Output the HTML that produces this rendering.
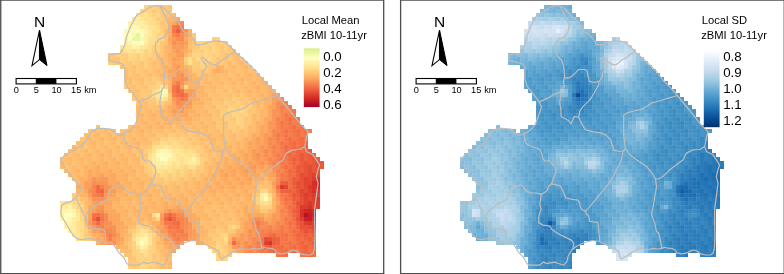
<!DOCTYPE html><html><head><meta charset="utf-8"><style>html,body{margin:0;padding:0;background:#fff}svg{display:block}text{font-family:"Liberation Sans",sans-serif;fill:#000}</style></head><body>
<svg width="784" height="274" viewBox="0 0 784 274" style="will-change:transform">
<defs><clipPath id="mclip"><path d="M144 5h28v4h-28zM140 9h32v4h-32zM136 13h40v4h-40zM132 17h48v4h-48zM128 21h56v4h-56zM128 25h56v4h-56zM124 29h68v4h-68zM124 33h72v4h-72zM124 37h72v4h-72zM212 37h8v4h-8zM124 41h104v4h-104zM120 45h112v4h-112zM120 49h116v4h-116zM108 53h132v4h-132zM108 57h136v4h-136zM108 61h140v4h-140zM120 65h132v4h-132zM124 69h132v4h-132zM124 73h136v4h-136zM124 77h140v4h-140zM124 81h144v4h-144zM124 85h148v4h-148zM128 89h148v4h-148zM132 93h148v4h-148zM132 97h152v4h-152zM136 101h152v4h-152zM136 105h156v4h-156zM136 109h160v4h-160zM136 113h160v4h-160zM136 117h164v4h-164zM136 121h164v4h-164zM96 125h4v4h-4zM128 125h176v4h-176zM88 129h28v4h-28zM120 129h192v4h-192zM84 133h224v4h-224zM80 137h228v4h-228zM76 141h232v4h-232zM72 145h236v4h-236zM68 149h244v4h-244zM64 153h252v4h-252zM60 157h260v4h-260zM60 161h264v4h-264zM60 165h264v4h-264zM64 169h256v4h-256zM68 173h252v4h-252zM72 177h248v4h-248zM76 181h244v4h-244zM76 185h244v4h-244zM76 189h244v4h-244zM72 193h248v4h-248zM72 197h248v4h-248zM60 201h260v4h-260zM60 205h260v4h-260zM60 209h256v4h-256zM60 213h256v4h-256zM60 217h256v4h-256zM64 221h252v4h-252zM64 225h252v4h-252zM68 229h248v4h-248zM72 233h244v4h-244zM76 237h240v4h-240zM96 241h88v4h-88zM196 241h120v4h-120zM116 245h64v4h-64zM208 245h108v4h-108zM120 249h56v4h-56zM212 249h104v4h-104zM124 253h48v4h-48zM216 253h16v4h-16zM276 253h12v4h-12zM300 253h16v4h-16zM128 257h44v4h-44zM216 257h12v4h-12zM128 261h44v4h-44zM128 265h44v4h-44z"/></clipPath><pattern id="gp" x="60" y="5" width="4" height="4" patternUnits="userSpaceOnUse"><path d="M0 0.25h4M0.25 0v4" stroke="#ffffff" stroke-width="0.5"/></pattern></defs>
<rect width="784" height="274" fill="#fff"/>
<g shape-rendering="crispEdges">
<path fill="#fed280" d="M144 5h4v4h-4zM140 9h4v4h-4zM156 33h4v4h-4zM200 41h4v4h-4zM208 53h4v4h-4zM164 85h4v4h-4zM156 101h4v4h-4zM232 109h4v4h-4zM236 113h4v4h-4zM244 113h4v4h-4zM172 137h4v4h-4zM148 161h4v4h-4zM136 225h4v4h-4zM152 233h4v4h-4zM132 241h4v4h-4zM224 241h4v4h-4zM148 249h8v4h-8zM136 253h8v4h-8zM148 253h4v4h-4zM224 253h4v4h-4zM140 257h4v4h-4z"/>
<path fill="#feca78" d="M148 5h4v4h-4zM156 5h4v4h-4zM164 5h4v4h-4zM160 25h4v4h-4zM192 33h4v4h-4zM196 45h4v4h-4zM108 57h4v4h-4zM124 57h4v4h-4zM152 57h4v4h-4zM220 57h4v4h-4zM124 61h4v4h-4zM196 61h4v4h-4zM220 61h4v4h-4zM124 65h4v4h-4zM136 65h4v4h-4zM192 65h4v4h-4zM204 69h4v4h-4zM144 97h4v4h-4zM152 97h4v4h-4zM216 105h4v4h-4zM236 105h4v4h-4zM224 109h4v4h-4zM228 113h4v4h-4zM232 121h4v4h-4zM180 133h4v4h-4zM192 137h4v4h-4zM188 141h4v4h-4zM144 161h4v4h-4zM144 165h4v4h-4zM144 169h4v4h-4zM200 169h4v4h-4zM152 177h8v4h-8zM176 177h4v4h-4zM184 177h4v4h-4zM144 225h8v4h-8zM228 229h4v4h-4zM84 233h4v4h-4zM128 245h4v4h-4zM156 253h4v4h-4zM220 253h4v4h-4zM228 253h4v4h-4z"/>
<path fill="#fed27e" d="M152 5h4v4h-4zM148 9h4v4h-4zM156 21h4v4h-4zM156 45h4v4h-4zM204 45h4v4h-4zM216 53h4v4h-4zM132 57h4v4h-4zM236 101h4v4h-4zM228 105h4v4h-4zM152 169h4v4h-4zM260 205h4v4h-4zM80 213h4v4h-4zM140 225h4v4h-4z"/>
<path fill="#fec272" d="M160 5h4v4h-4zM164 37h4v4h-4zM164 41h4v4h-4zM188 45h4v4h-4zM188 53h4v4h-4zM116 57h4v4h-4zM224 57h4v4h-4zM232 57h4v4h-4zM116 61h4v4h-4zM156 61h4v4h-4zM216 61h4v4h-4zM208 69h4v4h-4zM132 73h4v4h-4zM144 73h4v4h-4zM148 77h4v4h-4zM164 77h4v4h-4zM208 77h4v4h-4zM220 77h4v4h-4zM224 81h4v4h-4zM128 85h4v4h-4zM228 85h4v4h-4zM236 85h4v4h-4zM220 89h4v4h-4zM208 93h4v4h-4zM224 93h4v4h-4zM136 97h4v4h-4zM168 97h4v4h-4zM240 97h4v4h-4zM164 101h4v4h-4zM220 101h4v4h-4zM204 105h4v4h-4zM140 109h4v4h-4zM200 117h4v4h-4zM220 117h4v4h-4zM204 121h4v4h-4zM96 125h4v4h-4zM172 125h4v4h-4zM224 125h4v4h-4zM88 129h4v4h-4zM152 129h4v4h-4zM208 129h4v4h-4zM100 133h4v4h-4zM112 133h4v4h-4zM132 133h4v4h-4zM176 133h4v4h-4zM184 133h4v4h-4zM244 133h4v4h-4zM92 137h4v4h-4zM124 137h4v4h-4zM156 137h4v4h-4zM188 137h4v4h-4zM196 137h4v4h-4zM84 141h4v4h-4zM116 141h4v4h-4zM192 141h4v4h-4zM216 141h4v4h-4zM76 145h4v4h-4zM96 145h4v4h-4zM88 149h4v4h-4zM120 149h4v4h-4zM132 149h4v4h-4zM204 149h4v4h-4zM68 153h4v4h-4zM80 153h4v4h-4zM136 153h8v4h-8zM60 157h4v4h-4zM208 157h4v4h-4zM180 177h4v4h-4zM188 177h4v4h-4zM196 177h4v4h-4zM160 181h4v4h-4zM156 185h4v4h-4zM168 185h4v4h-4zM256 185h4v4h-4zM168 189h4v4h-4zM224 205h4v4h-4zM204 209h4v4h-4zM216 209h4v4h-4zM220 213h4v4h-4zM136 221h4v4h-4zM236 221h4v4h-4zM208 229h4v4h-4zM224 229h4v4h-4zM128 237h4v4h-4zM156 237h4v4h-4zM208 241h8v4h-8zM124 253h8v4h-8zM156 261h4v4h-4zM164 265h4v4h-4z"/>
<path fill="#fec270" d="M168 5h4v4h-4zM164 13h4v4h-4zM220 225h4v4h-4zM212 229h4v4h-4z"/>
<path fill="#feda86" d="M144 9h4v4h-4zM148 13h4v4h-4zM128 53h4v4h-4zM204 53h4v4h-4zM240 109h4v4h-4zM172 145h4v4h-4zM184 149h4v4h-4zM164 169h4v4h-4zM160 173h4v4h-4zM268 193h4v4h-4zM76 201h4v4h-4z"/>
<path fill="#fec878" d="M152 9h4v4h-4zM216 41h4v4h-4zM224 41h4v4h-4zM192 45h4v4h-4zM220 53h4v4h-4zM228 57h4v4h-4zM196 65h4v4h-4zM148 69h4v4h-4zM132 81h4v4h-4zM144 93h8v4h-8zM148 97h4v4h-4zM224 97h4v4h-4zM244 97h4v4h-4zM248 101h4v4h-4zM232 117h4v4h-4zM196 141h4v4h-4zM204 153h4v4h-4zM144 157h4v4h-4zM168 177h4v4h-4zM220 229h4v4h-4zM152 257h4v4h-4z"/>
<path fill="#fece7c" d="M156 9h4v4h-4zM204 41h4v4h-4zM152 45h4v4h-4zM192 49h8v4h-8zM224 49h4v4h-4zM120 53h4v4h-4zM120 57h4v4h-4zM144 57h4v4h-4zM204 57h4v4h-4zM212 57h4v4h-4zM120 61h4v4h-4zM144 61h4v4h-4zM192 61h4v4h-4zM204 61h4v4h-4zM144 65h4v4h-4zM160 81h4v4h-4zM148 85h4v4h-4zM232 97h4v4h-4zM160 101h4v4h-4zM224 101h4v4h-4zM232 105h4v4h-4zM220 113h4v4h-4zM240 113h4v4h-4zM224 117h4v4h-4zM228 121h4v4h-4zM228 125h4v4h-4zM160 137h4v4h-4zM152 141h8v4h-8zM180 141h4v4h-4zM184 145h4v4h-4zM200 149h4v4h-4zM200 157h4v4h-4zM196 165h4v4h-4zM184 169h4v4h-4zM152 173h8v4h-8zM76 197h4v4h-4zM148 229h4v4h-4zM216 229h4v4h-4zM220 237h4v4h-4zM152 241h4v4h-4zM212 249h4v4h-4zM224 249h4v4h-4zM144 257h4v4h-4zM220 257h4v4h-4z"/>
<path fill="#fec676" d="M160 9h4v4h-4zM164 21h4v4h-4zM220 49h4v4h-4zM208 61h4v4h-4zM148 65h4v4h-4zM128 69h4v4h-4zM192 69h4v4h-4zM144 77h4v4h-4zM156 77h4v4h-4zM152 81h4v4h-4zM124 85h4v4h-4zM224 85h4v4h-4zM216 89h4v4h-4zM228 89h4v4h-4zM220 93h4v4h-4zM132 97h4v4h-4zM148 101h4v4h-4zM232 101h4v4h-4zM248 113h4v4h-4zM244 121h4v4h-4zM244 125h4v4h-4zM176 129h4v4h-4zM220 129h4v4h-4zM236 129h4v4h-4zM200 145h4v4h-4zM196 169h4v4h-4zM160 177h4v4h-4zM176 181h4v4h-4zM144 221h4v4h-4zM216 225h4v4h-4zM152 229h4v4h-4zM212 233h4v4h-4zM128 241h4v4h-4zM224 245h4v4h-4z"/>
<path fill="#fecc7a" d="M164 9h4v4h-4zM156 17h4v4h-4zM212 37h4v4h-4zM208 45h4v4h-4zM216 45h4v4h-4zM224 45h4v4h-4zM152 49h4v4h-4zM200 49h4v4h-4zM212 53h4v4h-4zM136 57h4v4h-4zM192 57h4v4h-4zM108 61h4v4h-4zM212 61h4v4h-4zM204 65h4v4h-4zM152 77h4v4h-4zM240 101h4v4h-4zM244 105h4v4h-4zM220 109h4v4h-4zM224 113h4v4h-4zM228 117h4v4h-4zM232 125h4v4h-4zM168 133h4v4h-4zM164 137h4v4h-4zM176 137h4v4h-4zM184 137h4v4h-4zM192 145h4v4h-4zM144 149h4v4h-4zM196 149h4v4h-4zM204 157h4v4h-4zM200 165h4v4h-4zM148 169h4v4h-4zM168 173h4v4h-4zM176 173h4v4h-4zM184 173h4v4h-4zM192 173h4v4h-4zM72 193h4v4h-4zM72 197h4v4h-4zM80 201h4v4h-4zM80 209h4v4h-4zM236 225h4v4h-4zM132 229h4v4h-4zM88 237h4v4h-4zM152 237h4v4h-4zM212 237h8v4h-8zM216 249h4v4h-4zM156 257h4v4h-4zM152 261h4v4h-4zM128 265h4v4h-4zM136 265h4v4h-4z"/>
<path fill="#fec474" d="M168 9h4v4h-4zM164 17h4v4h-4zM192 41h4v4h-4zM160 45h4v4h-4zM220 45h4v4h-4zM228 45h4v4h-4zM160 49h4v4h-4zM112 53h4v4h-4zM160 53h4v4h-4zM216 57h4v4h-4zM240 57h4v4h-4zM140 61h4v4h-4zM232 61h4v4h-4zM156 65h4v4h-4zM208 65h8v4h-8zM224 65h4v4h-4zM152 73h4v4h-4zM132 77h4v4h-4zM136 81h4v4h-4zM140 85h4v4h-4zM132 93h4v4h-4zM212 97h4v4h-4zM228 97h4v4h-4zM136 101h4v4h-4zM152 101h4v4h-4zM244 101h4v4h-4zM160 105h4v4h-4zM252 105h4v4h-4zM248 109h4v4h-4zM96 129h4v4h-4zM88 133h4v4h-4zM160 133h4v4h-4zM192 133h4v4h-4zM200 133h4v4h-4zM224 133h4v4h-4zM236 133h4v4h-4zM224 137h4v4h-4zM104 141h4v4h-4zM140 145h8v4h-8zM76 149h4v4h-4zM144 153h4v4h-4zM212 153h4v4h-4zM72 161h4v4h-4zM208 161h4v4h-4zM188 173h4v4h-4zM168 181h4v4h-4zM264 181h4v4h-4zM260 185h4v4h-4zM252 197h4v4h-4zM260 209h4v4h-4zM212 221h4v4h-4zM224 221h8v4h-8zM128 229h4v4h-4zM88 233h4v4h-4zM156 249h4v4h-4zM128 257h8v4h-8z"/>
<path fill="#fee492" d="M136 13h4v4h-4zM176 153h4v4h-4zM196 157h4v4h-4zM196 161h4v4h-4zM168 165h4v4h-4zM76 229h4v4h-4zM140 229h4v4h-4zM72 233h4v4h-4zM140 249h4v4h-4z"/>
<path fill="#fede8a" d="M140 13h4v4h-4zM152 21h4v4h-4zM156 29h4v4h-4zM188 57h4v4h-4zM184 85h4v4h-4zM156 97h4v4h-4zM164 97h4v4h-4zM148 153h4v4h-4zM148 233h4v4h-4zM76 237h4v4h-4zM132 237h4v4h-4z"/>
<path fill="#fee28e" d="M144 13h4v4h-4zM148 17h4v4h-4zM148 37h4v4h-4zM124 49h4v4h-4zM160 85h4v4h-4zM156 89h4v4h-4zM160 145h4v4h-4zM180 149h4v4h-4zM184 153h4v4h-4zM148 157h4v4h-4zM172 161h4v4h-4zM176 165h4v4h-4zM156 169h4v4h-4zM268 197h4v4h-4z"/>
<path fill="#fed07c" d="M152 13h4v4h-4zM160 17h4v4h-4zM208 49h4v4h-4zM216 49h4v4h-4zM248 105h4v4h-4zM240 117h4v4h-4zM200 161h4v4h-4zM148 165h4v4h-4zM228 225h4v4h-4zM152 265h4v4h-4z"/>
<path fill="#fed482" d="M156 13h4v4h-4zM160 37h4v4h-4zM196 41h4v4h-4zM120 49h4v4h-4zM144 49h4v4h-4zM184 57h4v4h-4zM200 61h4v4h-4zM236 117h4v4h-4zM188 145h4v4h-4zM148 149h4v4h-4zM184 165h4v4h-4zM164 173h4v4h-4zM172 173h4v4h-4zM260 189h4v4h-4zM136 257h4v4h-4z"/>
<path fill="#feca7a" d="M160 13h4v4h-4zM152 53h4v4h-4zM136 61h4v4h-4zM136 69h4v4h-4zM144 81h4v4h-4zM140 93h4v4h-4zM228 101h4v4h-4zM232 129h4v4h-4zM188 133h4v4h-4zM148 173h4v4h-4zM164 181h4v4h-4zM132 265h4v4h-4zM148 265h4v4h-4z"/>
<path fill="#fec674" d="M168 13h4v4h-4zM160 21h4v4h-4zM160 41h4v4h-4zM228 49h4v4h-4zM112 57h4v4h-4zM148 57h4v4h-4zM128 61h4v4h-4zM148 61h4v4h-4zM128 65h4v4h-4zM140 65h4v4h-4zM140 69h4v4h-4zM196 69h4v4h-4zM128 89h4v4h-4zM144 89h8v4h-8zM168 93h4v4h-4zM232 93h4v4h-4zM216 101h4v4h-4zM148 105h4v4h-4zM224 105h4v4h-4zM212 117h4v4h-4zM244 117h4v4h-4zM216 121h4v4h-4zM220 125h4v4h-4zM164 129h4v4h-4zM244 129h4v4h-4zM80 137h4v4h-4zM204 141h4v4h-4zM84 145h4v4h-4zM140 157h4v4h-4zM156 181h4v4h-4zM84 213h4v4h-4zM228 213h4v4h-4zM220 217h4v4h-4zM232 221h4v4h-4zM232 229h4v4h-4zM216 233h4v4h-4zM152 253h4v4h-4zM156 265h4v4h-4z"/>
<path fill="#feba6c" d="M172 13h4v4h-4zM164 57h4v4h-4zM240 65h4v4h-4zM232 69h4v4h-4zM236 77h4v4h-4zM204 81h4v4h-4zM248 81h4v4h-4zM208 85h4v4h-4zM232 85h4v4h-4zM212 89h4v4h-4zM252 89h4v4h-4zM200 97h4v4h-4zM164 105h4v4h-4zM256 105h4v4h-4zM136 113h4v4h-4zM156 113h4v4h-4zM164 113h4v4h-4zM204 113h4v4h-4zM252 113h4v4h-4zM148 117h4v4h-4zM192 117h4v4h-4zM208 117h4v4h-4zM252 117h4v4h-4zM140 121h4v4h-4zM132 125h4v4h-4zM200 125h4v4h-4zM124 129h4v4h-4zM160 129h4v4h-4zM184 129h4v4h-4zM216 129h4v4h-4zM252 129h4v4h-4zM152 133h4v4h-4zM232 133h4v4h-4zM108 137h4v4h-4zM208 137h4v4h-4zM232 137h4v4h-4zM132 141h4v4h-4zM232 141h4v4h-4zM124 145h4v4h-4zM72 149h4v4h-4zM224 149h4v4h-4zM76 157h4v4h-4zM132 157h4v4h-4zM68 161h4v4h-4zM96 161h4v4h-4zM120 161h4v4h-4zM212 161h4v4h-4zM212 165h4v4h-4zM72 169h4v4h-4zM124 169h4v4h-4zM140 169h4v4h-4zM144 173h4v4h-4zM148 177h4v4h-4zM192 177h4v4h-4zM148 185h4v4h-4zM192 185h4v4h-4zM200 185h4v4h-4zM136 189h4v4h-4zM184 189h4v4h-4zM128 193h4v4h-4zM140 193h4v4h-4zM152 193h4v4h-4zM164 193h4v4h-4zM228 193h4v4h-4zM132 197h4v4h-4zM188 197h4v4h-4zM232 197h4v4h-4zM156 201h4v4h-4zM156 205h4v4h-4zM192 205h4v4h-4zM140 209h4v4h-4zM192 209h4v4h-4zM232 209h4v4h-4zM240 213h4v4h-4zM200 217h4v4h-4zM228 217h4v4h-4zM236 217h4v4h-4zM148 221h4v4h-4zM212 225h4v4h-4zM224 225h4v4h-4zM156 233h4v4h-4z"/>
<path fill="#fee696" d="M132 17h4v4h-4zM140 17h4v4h-4zM144 21h4v4h-4zM144 45h4v4h-4zM176 157h4v4h-4zM184 157h4v4h-4zM184 161h4v4h-4zM160 165h4v4h-4zM76 233h4v4h-4zM148 241h4v4h-4z"/>
<path fill="#feec9e" d="M136 17h4v4h-4zM136 21h4v4h-4zM72 221h4v4h-4zM72 225h4v4h-4z"/>
<path fill="#fee08a" d="M144 17h4v4h-4zM132 49h4v4h-4zM140 49h4v4h-4zM152 149h4v4h-4zM188 149h4v4h-4zM188 153h4v4h-4zM180 161h4v4h-4zM144 249h4v4h-4z"/>
<path fill="#fed682" d="M152 17h4v4h-4zM200 45h4v4h-4zM204 49h4v4h-4zM132 53h4v4h-4zM148 53h4v4h-4zM128 57h4v4h-4zM140 57h4v4h-4zM208 57h4v4h-4zM228 109h4v4h-4zM232 113h4v4h-4zM236 121h4v4h-4zM176 141h4v4h-4zM76 205h4v4h-4zM80 217h4v4h-4zM136 229h4v4h-4zM220 233h8v4h-8zM216 245h4v4h-4zM136 249h4v4h-4zM220 249h4v4h-4zM140 261h4v4h-4z"/>
<path fill="#feb668" d="M168 17h8v4h-8zM164 49h8v4h-8zM160 57h4v4h-4zM224 69h4v4h-4zM256 73h4v4h-4zM248 77h4v4h-4zM208 81h4v4h-4zM232 81h4v4h-4zM260 81h4v4h-4zM212 85h4v4h-4zM244 85h4v4h-4zM252 85h4v4h-4zM264 89h4v4h-4zM196 93h12v4h-12zM256 101h4v4h-4zM200 105h4v4h-4zM188 113h4v4h-4zM196 117h4v4h-4zM164 121h4v4h-4zM200 121h4v4h-4zM260 121h4v4h-4zM180 125h4v4h-4zM192 125h4v4h-4zM204 125h4v4h-4zM196 129h4v4h-4zM120 133h4v4h-4zM140 133h4v4h-4zM208 133h4v4h-4zM248 133h4v4h-4zM100 137h4v4h-4zM112 137h4v4h-4zM132 137h4v4h-4zM144 137h4v4h-4zM248 137h4v4h-4zM92 141h4v4h-4zM224 141h4v4h-4zM116 145h4v4h-4zM216 145h4v4h-4zM96 149h4v4h-4zM108 153h4v4h-4zM120 153h4v4h-4zM132 153h4v4h-4zM236 153h4v4h-4zM88 157h4v4h-4zM136 157h4v4h-4zM220 157h4v4h-4zM228 157h4v4h-4zM60 161h4v4h-4zM124 161h4v4h-4zM220 161h4v4h-4zM228 161h4v4h-4zM112 165h4v4h-4zM208 165h4v4h-4zM220 165h4v4h-4zM112 169h4v4h-4zM128 169h4v4h-4zM208 169h4v4h-4zM76 173h4v4h-4zM208 173h4v4h-4zM216 177h4v4h-4zM268 181h4v4h-4zM124 185h4v4h-4zM176 185h4v4h-4zM212 185h4v4h-4zM128 189h4v4h-4zM140 189h4v4h-4zM176 189h4v4h-4zM196 189h4v4h-4zM204 189h4v4h-4zM248 189h8v4h-8zM132 193h4v4h-4zM156 193h4v4h-4zM188 193h4v4h-4zM208 193h4v4h-4zM220 193h4v4h-4zM240 193h4v4h-4zM168 197h4v4h-4zM192 197h4v4h-4zM168 201h4v4h-4zM180 201h4v4h-4zM228 201h4v4h-4zM248 201h4v4h-4zM272 201h4v4h-4zM112 205h4v4h-4zM196 205h4v4h-4zM248 205h8v4h-8zM272 205h4v4h-4zM116 209h4v4h-4zM132 209h4v4h-4zM200 209h4v4h-4zM144 213h4v4h-4zM204 213h4v4h-4zM236 213h4v4h-4zM120 217h8v4h-8zM132 221h4v4h-4zM124 233h4v4h-4zM232 233h4v4h-4zM120 245h4v4h-4z"/>
<path fill="#fca85e" d="M176 17h4v4h-4zM172 21h4v4h-4zM176 61h4v4h-4zM216 69h4v4h-4zM172 73h4v4h-4zM184 73h4v4h-4zM172 105h4v4h-4zM180 113h4v4h-4zM268 113h4v4h-4zM176 117h4v4h-4zM264 117h8v4h-8zM264 121h4v4h-4zM248 153h4v4h-4zM236 161h4v4h-4zM264 165h4v4h-4zM88 169h4v4h-4zM96 169h4v4h-4zM228 169h4v4h-4zM268 169h4v4h-4zM220 173h4v4h-4zM240 173h4v4h-4zM272 177h4v4h-4zM108 181h8v4h-8zM228 181h4v4h-4zM248 181h4v4h-4zM116 185h4v4h-4zM220 185h4v4h-4zM232 185h4v4h-4zM88 205h4v4h-4zM104 205h8v4h-8zM88 209h4v4h-4zM108 209h4v4h-4zM188 213h4v4h-4zM120 221h4v4h-4zM88 225h4v4h-4zM116 225h4v4h-4zM196 237h4v4h-4zM164 241h8v4h-8z"/>
<path fill="#fef2aa" d="M128 21h4v4h-4zM128 41h4v4h-4zM156 157h4v4h-4zM192 157h4v4h-4zM164 161h4v4h-4zM60 209h4v4h-4zM72 209h4v4h-4zM64 221h4v4h-4zM140 245h4v4h-4z"/>
<path fill="#fef0a4" d="M132 21h4v4h-4zM168 157h4v4h-4zM68 205h4v4h-4z"/>
<path fill="#feeea2" d="M140 21h4v4h-4zM172 157h4v4h-4zM156 161h8v4h-8zM260 193h4v4h-4z"/>
<path fill="#fedc88" d="M148 21h4v4h-4zM152 29h4v4h-4zM148 45h4v4h-4zM152 93h4v4h-4zM160 141h4v4h-4zM172 141h4v4h-4zM192 165h4v4h-4zM80 221h4v4h-4zM80 233h4v4h-4zM144 253h4v4h-4z"/>
<path fill="#feb266" d="M168 21h4v4h-4zM220 69h4v4h-4zM248 89h4v4h-4zM180 117h4v4h-4zM160 125h4v4h-4zM196 185h4v4h-4zM204 185h4v4h-4zM180 193h4v4h-4zM216 197h4v4h-4zM272 197h4v4h-4zM152 205h4v4h-4zM272 209h4v4h-4zM124 213h4v4h-4z"/>
<path fill="#fa9254" d="M176 21h4v4h-4zM180 81h4v4h-4zM180 101h4v4h-4zM272 109h8v4h-8zM272 113h4v4h-4zM268 149h4v4h-4zM260 161h4v4h-4zM96 181h8v4h-8zM168 209h4v4h-4zM260 217h4v4h-4zM108 225h8v4h-8zM252 225h4v4h-4zM100 229h4v4h-4zM248 233h4v4h-4zM108 241h4v4h-4zM236 245h4v4h-4z"/>
<path fill="#f88c52" d="M180 21h4v4h-4zM280 97h4v4h-4zM276 101h4v4h-4zM272 137h4v4h-4zM272 165h4v4h-4zM92 181h4v4h-4zM104 189h4v4h-4zM104 213h4v4h-4zM184 217h4v4h-4zM104 221h4v4h-4zM280 221h4v4h-4zM164 225h4v4h-4zM184 225h4v4h-4zM264 225h4v4h-4zM256 229h4v4h-4zM168 233h4v4h-4zM256 233h4v4h-4zM232 237h4v4h-4zM176 241h4v4h-4zM252 245h4v4h-4z"/>
<path fill="#fef2a8" d="M128 25h4v4h-4zM64 225h4v4h-4zM136 241h4v4h-4z"/>
<path fill="#fef8b4" d="M132 25h4v4h-4zM124 29h8v4h-8zM164 89h4v4h-4zM68 209h4v4h-4zM72 213h4v4h-4zM68 217h4v4h-4z"/>
<path fill="#fef4ac" d="M136 25h4v4h-4zM144 29h4v4h-4zM132 45h4v4h-4zM144 241h4v4h-4z"/>
<path fill="#feeca0" d="M140 25h4v4h-4zM144 41h4v4h-4zM172 153h4v4h-4zM72 217h4v4h-4zM72 229h4v4h-4zM144 233h4v4h-4zM136 237h4v4h-4z"/>
<path fill="#feeea0" d="M144 25h4v4h-4z"/>
<path fill="#fee490" d="M148 25h8v4h-8zM68 201h4v4h-4z"/>
<path fill="#fed884" d="M156 25h4v4h-4zM148 49h4v4h-4zM212 49h4v4h-4zM140 53h4v4h-4zM196 57h4v4h-4zM164 141h4v4h-4zM180 145h4v4h-4zM196 153h4v4h-4zM152 165h4v4h-4zM172 169h4v4h-4zM72 201h4v4h-4zM268 201h4v4h-4zM80 229h4v4h-4zM224 257h4v4h-4zM140 265h4v4h-4z"/>
<path fill="#fec876" d="M164 25h4v4h-4zM108 53h4v4h-4zM228 53h4v4h-4zM112 61h4v4h-4zM184 61h4v4h-4zM128 73h4v4h-4zM140 73h4v4h-4zM148 81h4v4h-4zM136 85h4v4h-4zM140 89h4v4h-4zM240 93h4v4h-4zM236 97h4v4h-4zM212 101h4v4h-4zM220 105h4v4h-4zM252 109h4v4h-4zM248 117h4v4h-4zM248 121h4v4h-4zM216 125h4v4h-4zM236 125h4v4h-4zM156 133h4v4h-4zM172 133h4v4h-4zM148 145h4v4h-4zM200 153h4v4h-4zM140 161h4v4h-4zM188 169h4v4h-4zM152 181h4v4h-4zM256 193h4v4h-4zM84 225h4v4h-4zM208 233h4v4h-4zM208 245h8v4h-8zM128 261h12v4h-12zM160 261h4v4h-4z"/>
<path fill="#fcac60" d="M168 25h4v4h-4zM184 49h4v4h-4zM172 53h4v4h-4zM196 97h4v4h-4zM168 109h4v4h-4zM184 109h4v4h-4zM240 149h4v4h-4zM236 169h4v4h-4zM228 173h4v4h-4zM232 177h4v4h-4zM268 177h4v4h-4zM236 181h4v4h-4zM208 185h4v4h-4zM240 185h4v4h-4zM120 189h4v4h-4zM248 193h4v4h-4zM112 197h4v4h-4zM164 205h4v4h-4zM172 205h4v4h-4zM244 205h4v4h-4zM184 209h8v4h-8zM244 209h4v4h-4zM268 213h4v4h-4zM196 217h4v4h-4zM152 221h4v4h-4zM192 221h4v4h-4zM100 237h4v4h-4zM196 241h4v4h-4z"/>
<path fill="#f67848" d="M172 25h4v4h-4zM172 85h4v4h-4zM288 105h4v4h-4zM284 113h4v4h-4zM280 125h4v4h-4zM300 129h4v4h-4zM284 137h4v4h-4zM292 137h4v4h-4zM304 137h4v4h-4zM280 145h4v4h-4zM284 157h4v4h-4zM280 161h4v4h-4zM280 177h4v4h-4zM280 193h8v4h-8zM288 201h4v4h-4zM288 213h4v4h-4zM164 221h4v4h-4zM256 221h4v4h-4zM172 225h4v4h-4zM292 225h4v4h-4zM180 229h4v4h-4zM288 229h4v4h-4zM280 241h4v4h-4zM292 241h4v4h-4zM284 245h4v4h-4zM264 249h4v4h-4zM276 253h4v4h-4z"/>
<path fill="#f47044" d="M176 25h4v4h-4zM176 93h4v4h-4zM288 117h4v4h-4zM284 129h4v4h-4zM288 141h4v4h-4zM284 165h4v4h-4zM288 197h4v4h-4zM172 221h4v4h-4zM288 221h4v4h-4zM176 225h4v4h-4zM284 233h4v4h-4zM292 233h4v4h-4zM300 237h4v4h-4zM288 241h4v4h-4zM312 253h4v4h-4z"/>
<path fill="#f67a4a" d="M180 25h4v4h-4zM176 81h4v4h-4zM284 117h4v4h-4zM292 117h4v4h-4zM296 125h4v4h-4zM284 141h4v4h-4zM284 177h4v4h-4zM96 193h4v4h-4zM284 217h4v4h-4zM268 229h4v4h-4zM172 233h4v4h-4z"/>
<path fill="#fafcb8" d="M132 29h4v4h-4zM132 41h8v4h-8z"/>
<path fill="#fcfebc" d="M136 29h4v4h-4z"/>
<path fill="#fef6b0" d="M140 29h4v4h-4zM164 149h4v4h-4zM64 209h4v4h-4zM140 237h4v4h-4z"/>
<path fill="#fee898" d="M148 29h4v4h-4zM120 45h8v4h-8zM140 45h4v4h-4zM176 149h4v4h-4zM152 153h4v4h-4zM180 153h4v4h-4zM156 165h4v4h-4zM76 217h4v4h-4zM140 233h4v4h-4z"/>
<path fill="#fed07e" d="M160 29h4v4h-4zM212 41h4v4h-4zM220 41h4v4h-4zM156 49h4v4h-4zM116 53h4v4h-4zM136 53h4v4h-4zM144 53h4v4h-4zM200 53h4v4h-4zM132 61h4v4h-4zM152 85h4v4h-4zM236 109h4v4h-4zM244 109h4v4h-4zM240 121h4v4h-4zM240 125h4v4h-4zM196 145h4v4h-4zM176 169h4v4h-4zM192 169h4v4h-4zM164 177h4v4h-4zM172 177h4v4h-4zM256 197h4v4h-4zM256 201h4v4h-4zM264 205h8v4h-8zM84 229h4v4h-4zM84 237h4v4h-4zM216 241h4v4h-4zM132 245h4v4h-4zM152 245h4v4h-4zM220 245h4v4h-4zM132 249h4v4h-4zM132 253h4v4h-4zM216 253h4v4h-4zM144 261h4v4h-4z"/>
<path fill="#febc6c" d="M164 29h4v4h-4zM236 57h4v4h-4zM228 61h4v4h-4zM252 73h4v4h-4zM128 77h4v4h-4zM140 77h4v4h-4zM216 81h4v4h-4zM228 81h4v4h-4zM256 81h4v4h-4zM240 85h4v4h-4zM136 89h4v4h-4zM216 93h4v4h-4zM144 101h4v4h-4zM208 101h4v4h-4zM260 101h4v4h-4zM144 105h4v4h-4zM156 105h4v4h-4zM196 109h4v4h-4zM160 121h4v4h-4zM196 121h4v4h-4zM252 121h4v4h-4zM176 125h4v4h-4zM188 125h4v4h-4zM212 125h4v4h-4zM252 125h4v4h-4zM92 129h4v4h-4zM144 129h4v4h-4zM84 133h4v4h-4zM116 133h4v4h-4zM136 133h4v4h-4zM196 133h4v4h-4zM216 133h4v4h-4zM96 137h4v4h-4zM240 137h4v4h-4zM88 141h4v4h-4zM144 141h4v4h-4zM220 141h4v4h-4zM240 141h4v4h-4zM80 145h4v4h-4zM112 145h4v4h-4zM212 145h4v4h-4zM232 145h4v4h-4zM240 145h4v4h-4zM92 149h4v4h-4zM140 149h4v4h-4zM232 149h4v4h-4zM84 153h4v4h-4zM104 153h4v4h-4zM116 153h4v4h-4zM128 153h4v4h-4zM216 153h4v4h-4zM224 153h4v4h-4zM120 165h4v4h-4zM136 165h4v4h-4zM80 169h4v4h-4zM212 169h4v4h-4zM140 173h4v4h-4zM128 177h4v4h-4zM144 177h4v4h-4zM144 181h4v4h-4zM132 185h4v4h-4zM148 189h4v4h-4zM256 189h4v4h-4zM204 193h4v4h-4zM216 193h4v4h-4zM164 197h4v4h-4zM240 197h4v4h-4zM228 205h4v4h-4zM256 205h4v4h-4zM128 209h4v4h-4zM148 209h4v4h-4zM212 213h4v4h-4zM224 213h4v4h-4zM144 217h4v4h-4zM216 217h4v4h-4zM204 221h4v4h-4zM220 221h4v4h-4zM124 237h4v4h-4zM200 237h4v4h-4zM160 265h4v4h-4z"/>
<path fill="#fcaa5e" d="M168 29h4v4h-4zM168 73h4v4h-4zM192 97h4v4h-4zM252 137h4v4h-4zM96 165h4v4h-4zM236 165h4v4h-4zM260 169h4v4h-4zM112 185h4v4h-4zM116 229h4v4h-4zM236 233h4v4h-4zM228 241h4v4h-4z"/>
<path fill="#f67446" d="M172 29h4v4h-4zM172 89h4v4h-4zM300 125h4v4h-4zM288 165h4v4h-4zM168 225h4v4h-4zM288 225h4v4h-4zM280 233h4v4h-4zM280 237h4v4h-4zM284 241h4v4h-4z"/>
<path fill="#ec5a3a" d="M176 29h4v4h-4zM308 157h4v4h-4z"/>
<path fill="#f67c4a" d="M180 29h4v4h-4zM288 109h4v4h-4zM284 121h4v4h-4zM280 129h4v4h-4zM300 133h4v4h-4zM280 149h4v4h-4zM276 153h4v4h-4zM284 161h4v4h-4zM100 213h4v4h-4zM108 233h4v4h-4zM260 233h4v4h-4zM288 233h4v4h-4zM176 237h4v4h-4zM256 241h4v4h-4z"/>
<path fill="#f88e52" d="M184 29h4v4h-4zM180 33h4v4h-4zM172 41h4v4h-4zM172 81h4v4h-4zM180 105h4v4h-4zM268 145h4v4h-4zM264 153h4v4h-4zM272 157h4v4h-4zM276 165h4v4h-4zM276 177h4v4h-4zM88 189h4v4h-4zM96 209h8v4h-8zM252 217h8v4h-8zM272 225h4v4h-4zM256 237h4v4h-4zM112 241h4v4h-4zM244 241h4v4h-4zM244 245h4v4h-4zM244 249h4v4h-4zM252 249h4v4h-4z"/>
<path fill="#feb466" d="M188 29h4v4h-4zM164 45h4v4h-4zM168 65h4v4h-4zM220 65h4v4h-4zM244 65h4v4h-4zM164 69h4v4h-4zM160 73h4v4h-4zM192 73h4v4h-4zM248 73h4v4h-4zM192 77h8v4h-8zM240 77h4v4h-4zM260 77h4v4h-4zM168 81h4v4h-4zM252 81h4v4h-4zM168 85h4v4h-4zM264 85h4v4h-4zM196 89h8v4h-8zM256 89h4v4h-4zM272 89h4v4h-4zM268 101h4v4h-4zM264 105h4v4h-4zM260 109h4v4h-4zM160 113h4v4h-4zM192 113h4v4h-4zM260 113h4v4h-4zM152 117h4v4h-4zM144 121h4v4h-4zM188 121h4v4h-4zM136 125h4v4h-4zM212 137h4v4h-4zM136 141h4v4h-4zM236 141h4v4h-4zM128 145h4v4h-4zM236 145h4v4h-4zM108 149h4v4h-4zM228 149h4v4h-4zM236 149h4v4h-4zM88 153h4v4h-4zM220 153h4v4h-4zM228 153h4v4h-4zM100 157h4v4h-4zM112 157h4v4h-4zM124 157h4v4h-4zM100 161h4v4h-4zM112 161h4v4h-4zM100 165h4v4h-4zM128 165h4v4h-4zM76 169h4v4h-4zM100 169h4v4h-4zM68 173h4v4h-4zM84 173h4v4h-4zM116 173h4v4h-4zM132 173h4v4h-4zM260 173h4v4h-4zM120 177h4v4h-4zM120 181h4v4h-4zM136 181h4v4h-4zM220 181h4v4h-4zM224 185h4v4h-4zM236 185h4v4h-4zM76 189h4v4h-4zM156 189h4v4h-4zM188 189h4v4h-4zM216 189h4v4h-4zM228 189h4v4h-4zM80 193h4v4h-4zM116 193h4v4h-4zM168 193h4v4h-4zM200 193h4v4h-4zM232 193h4v4h-4zM124 197h4v4h-4zM148 197h4v4h-4zM180 197h4v4h-4zM204 197h4v4h-4zM236 197h4v4h-4zM88 201h4v4h-4zM112 201h4v4h-4zM128 201h4v4h-4zM140 201h4v4h-4zM160 201h4v4h-4zM196 201h4v4h-4zM208 201h4v4h-4zM220 201h4v4h-4zM116 205h4v4h-4zM132 205h4v4h-4zM160 205h4v4h-4zM200 205h4v4h-4zM240 205h4v4h-4zM120 209h4v4h-4zM144 209h4v4h-4zM156 209h4v4h-4zM248 209h4v4h-4zM120 213h4v4h-4zM136 213h4v4h-4zM264 213h4v4h-4zM140 217h4v4h-4zM200 229h8v4h-8zM164 245h4v4h-4zM164 253h4v4h-4zM168 261h4v4h-4z"/>
<path fill="#fefcba" d="M124 33h4v4h-4zM164 157h4v4h-4zM64 217h4v4h-4z"/>
<path fill="#fefebe" d="M128 33h4v4h-4zM160 89h4v4h-4zM160 157h4v4h-4zM264 197h4v4h-4zM68 213h4v4h-4z"/>
<path fill="#f2faae" d="M132 33h4v4h-4z"/>
<path fill="#e6f49e" d="M136 33h4v4h-4z"/>
<path fill="#fafeba" d="M140 33h4v4h-4zM128 37h4v4h-4z"/>
<path fill="#feeea4" d="M144 33h4v4h-4zM124 41h4v4h-4z"/>
<path fill="#feea9c" d="M148 33h4v4h-4zM168 161h4v4h-4zM260 197h4v4h-4zM156 213h4v4h-4zM68 229h4v4h-4zM144 245h4v4h-4z"/>
<path fill="#fee08c" d="M152 33h4v4h-4zM152 37h4v4h-4zM148 41h8v4h-8zM188 61h4v4h-4zM176 145h4v4h-4zM180 157h4v4h-4zM188 165h4v4h-4zM160 169h4v4h-4zM168 169h4v4h-4zM64 201h4v4h-4zM76 209h4v4h-4zM76 221h4v4h-4zM80 225h4v4h-4zM144 229h4v4h-4zM80 237h4v4h-4z"/>
<path fill="#fed480" d="M160 33h4v4h-4zM156 37h4v4h-4zM216 37h4v4h-4zM156 41h4v4h-4zM212 45h4v4h-4zM192 53h8v4h-8zM200 57h4v4h-4zM200 65h4v4h-4zM156 81h4v4h-4zM156 85h4v4h-4zM240 105h4v4h-4zM180 137h4v4h-4zM168 141h4v4h-4zM184 141h4v4h-4zM180 173h4v4h-4zM80 205h4v4h-4zM156 217h4v4h-4zM148 257h4v4h-4zM216 257h4v4h-4zM144 265h4v4h-4z"/>
<path fill="#fec070" d="M164 33h4v4h-4zM192 37h4v4h-4zM156 53h4v4h-4zM224 53h4v4h-4zM232 53h4v4h-4zM156 57h4v4h-4zM244 61h4v4h-4zM120 65h4v4h-4zM132 65h4v4h-4zM236 65h4v4h-4zM132 69h4v4h-4zM144 69h4v4h-4zM152 69h4v4h-4zM200 69h4v4h-4zM228 69h4v4h-4zM248 69h4v4h-4zM208 73h4v4h-4zM240 73h4v4h-4zM124 77h4v4h-4zM136 77h4v4h-4zM232 77h4v4h-4zM252 77h4v4h-4zM140 81h4v4h-4zM164 81h4v4h-4zM200 81h4v4h-4zM212 81h4v4h-4zM244 81h4v4h-4zM144 85h4v4h-4zM216 85h4v4h-4zM132 89h4v4h-4zM204 89h4v4h-4zM232 89h4v4h-4zM240 89h4v4h-4zM136 93h4v4h-4zM212 93h4v4h-4zM236 93h4v4h-4zM244 93h4v4h-4zM252 93h4v4h-4zM216 97h4v4h-4zM248 97h4v4h-4zM256 97h4v4h-4zM140 101h4v4h-4zM140 105h4v4h-4zM152 105h4v4h-4zM208 105h4v4h-4zM260 105h4v4h-4zM152 109h4v4h-4zM212 109h4v4h-4zM216 113h4v4h-4zM144 117h4v4h-4zM136 121h4v4h-4zM192 121h4v4h-4zM224 121h4v4h-4zM128 125h4v4h-4zM184 125h4v4h-4zM196 125h4v4h-4zM208 125h4v4h-4zM100 129h4v4h-4zM120 129h4v4h-4zM168 129h4v4h-4zM180 129h4v4h-4zM200 129h4v4h-4zM228 129h4v4h-4zM240 129h4v4h-4zM124 133h4v4h-4zM144 133h4v4h-4zM164 133h4v4h-4zM212 133h4v4h-4zM228 133h4v4h-4zM84 137h4v4h-4zM104 137h4v4h-4zM116 137h4v4h-4zM136 137h4v4h-4zM204 137h4v4h-4zM228 137h4v4h-4zM96 141h4v4h-4zM128 141h4v4h-4zM200 141h4v4h-4zM228 141h4v4h-4zM108 145h4v4h-4zM120 145h4v4h-4zM68 149h4v4h-4zM100 149h4v4h-4zM212 149h4v4h-4zM112 153h4v4h-4zM124 153h4v4h-4zM72 157h4v4h-4zM92 157h4v4h-4zM64 161h4v4h-4zM84 161h4v4h-4zM128 161h4v4h-4zM204 161h4v4h-4zM76 165h4v4h-4zM204 165h4v4h-4zM68 169h4v4h-4zM204 169h4v4h-4zM136 173h4v4h-4zM204 173h4v4h-4zM72 177h4v4h-4zM180 181h4v4h-4zM188 181h4v4h-4zM180 185h4v4h-4zM188 185h4v4h-4zM264 185h8v4h-8zM180 189h4v4h-4zM268 189h4v4h-4zM76 193h4v4h-4zM160 193h4v4h-4zM80 197h4v4h-4zM232 201h4v4h-4zM84 205h4v4h-4zM228 209h4v4h-4zM208 213h4v4h-4zM212 217h4v4h-4zM224 217h4v4h-4zM216 221h4v4h-4zM132 225h4v4h-4zM204 225h4v4h-4zM124 241h4v4h-4zM204 241h4v4h-4zM156 245h8v4h-8zM228 249h4v4h-4zM168 257h4v4h-4z"/>
<path fill="#feb062" d="M168 33h4v4h-4zM188 33h4v4h-4zM164 65h4v4h-4zM216 65h4v4h-4zM188 73h4v4h-4zM168 77h4v4h-4zM188 85h4v4h-4zM256 85h4v4h-4zM268 89h4v4h-4zM268 93h4v4h-4zM172 117h4v4h-4zM184 117h4v4h-4zM168 121h4v4h-4zM256 133h4v4h-4zM232 157h4v4h-4zM240 157h4v4h-4zM104 161h4v4h-4zM116 161h4v4h-4zM232 161h4v4h-4zM104 165h4v4h-4zM92 169h4v4h-4zM104 169h4v4h-4zM120 169h4v4h-4zM124 177h4v4h-4zM212 177h4v4h-4zM240 177h4v4h-4zM252 177h4v4h-4zM80 181h4v4h-4zM244 181h4v4h-4zM216 185h4v4h-4zM252 185h4v4h-4zM220 189h4v4h-4zM232 189h4v4h-4zM124 193h4v4h-4zM136 193h4v4h-4zM148 193h4v4h-4zM244 193h4v4h-4zM128 197h4v4h-4zM172 197h4v4h-4zM184 197h4v4h-4zM172 201h4v4h-4zM252 209h4v4h-4zM244 217h4v4h-4zM240 229h4v4h-4zM160 237h4v4h-4zM200 241h4v4h-4z"/>
<path fill="#f88850" d="M172 33h4v4h-4zM176 97h4v4h-4zM284 109h4v4h-4zM272 133h4v4h-4zM268 137h4v4h-4zM268 157h4v4h-4zM276 161h4v4h-4zM276 173h4v4h-4zM284 213h4v4h-4zM104 217h4v4h-4zM252 221h4v4h-4zM96 225h4v4h-4zM172 237h4v4h-4zM180 237h4v4h-4zM252 237h4v4h-4z"/>
<path fill="#f67648" d="M176 33h4v4h-4zM184 93h4v4h-4zM292 113h4v4h-4zM296 121h4v4h-4zM288 125h4v4h-4zM304 133h4v4h-4zM280 173h4v4h-4zM284 201h4v4h-4zM172 213h4v4h-4zM168 221h4v4h-4zM280 229h4v4h-4zM276 233h4v4h-4zM296 249h4v4h-4z"/>
<path fill="#fa9e5a" d="M184 33h4v4h-4zM184 41h4v4h-4zM176 45h4v4h-4zM176 53h4v4h-4zM172 57h4v4h-4zM180 85h4v4h-4zM192 89h4v4h-4zM276 93h4v4h-4zM272 97h8v4h-8zM256 141h4v4h-4zM252 157h4v4h-4zM260 157h4v4h-4zM260 165h4v4h-4zM252 169h4v4h-4zM272 173h4v4h-4zM84 181h8v4h-8zM276 197h4v4h-4zM92 209h4v4h-4zM172 209h4v4h-4zM160 213h4v4h-4zM268 221h4v4h-4zM92 229h4v4h-4zM192 233h4v4h-4zM116 237h4v4h-4zM236 237h4v4h-4zM100 241h4v4h-4zM176 245h4v4h-4zM240 245h4v4h-4zM240 249h4v4h-4z"/>
<path fill="#fef4aa" d="M124 37h4v4h-4z"/>
<path fill="#ecf6a4" d="M132 37h4v4h-4z"/>
<path fill="#e8f6a0" d="M136 37h4v4h-4z"/>
<path fill="#f4fab2" d="M140 37h4v4h-4z"/>
<path fill="#fef0a6" d="M144 37h4v4h-4zM136 45h4v4h-4zM156 149h4v4h-4z"/>
<path fill="#fca45c" d="M168 37h4v4h-4zM172 49h4v4h-4zM180 49h4v4h-4zM176 57h4v4h-4zM172 65h4v4h-4zM168 69h8v4h-8zM180 69h4v4h-4zM184 89h4v4h-4zM188 105h4v4h-4zM268 105h4v4h-4zM184 113h4v4h-4zM260 133h4v4h-4zM248 141h4v4h-4zM244 157h4v4h-4zM252 161h4v4h-4zM256 165h4v4h-4zM240 169h4v4h-4zM248 169h4v4h-4zM232 173h4v4h-4zM256 173h4v4h-4zM88 177h4v4h-4zM236 177h4v4h-4zM240 181h4v4h-4zM272 185h4v4h-4zM112 193h4v4h-4zM100 201h12v4h-12zM92 205h4v4h-4zM176 205h4v4h-4zM108 213h4v4h-4zM116 213h4v4h-4zM184 213h4v4h-4zM112 217h4v4h-4zM156 225h4v4h-4zM248 225h4v4h-4zM196 233h4v4h-4zM120 237h4v4h-4zM236 249h4v4h-4z"/>
<path fill="#fa9858" d="M172 37h4v4h-4zM252 149h4v4h-4zM104 177h4v4h-4zM276 209h4v4h-4zM168 237h4v4h-4z"/>
<path fill="#f88a50" d="M176 37h8v4h-8zM176 101h4v4h-4zM276 129h4v4h-4zM264 149h4v4h-4zM276 149h4v4h-4zM272 153h4v4h-4zM276 181h4v4h-4zM280 201h4v4h-4zM176 213h4v4h-4zM280 217h4v4h-4zM184 221h4v4h-4zM108 229h4v4h-4zM112 233h4v4h-4zM252 241h4v4h-4z"/>
<path fill="#fcaa60" d="M184 37h4v4h-4zM168 41h4v4h-4zM168 53h4v4h-4zM180 61h4v4h-4zM184 69h4v4h-4zM184 81h4v4h-4zM168 105h4v4h-4zM264 125h4v4h-4zM264 129h4v4h-4zM252 133h4v4h-4zM252 141h4v4h-4zM252 145h4v4h-4zM248 157h4v4h-4zM244 165h4v4h-4zM108 169h4v4h-4zM108 173h4v4h-4zM248 173h4v4h-4zM108 177h4v4h-4zM216 181h4v4h-4zM212 189h4v4h-4zM244 189h4v4h-4zM88 197h4v4h-4zM116 197h4v4h-4zM192 213h4v4h-4zM252 213h4v4h-4zM192 217h4v4h-4zM264 217h4v4h-4zM120 225h4v4h-4zM96 237h4v4h-4zM172 245h4v4h-4z"/>
<path fill="#feb86a" d="M188 37h4v4h-4zM164 53h4v4h-4zM184 53h4v4h-4zM236 53h4v4h-4zM240 61h4v4h-4zM232 65h4v4h-4zM156 69h4v4h-4zM164 73h4v4h-4zM204 73h4v4h-4zM212 73h4v4h-4zM204 77h4v4h-4zM228 77h4v4h-4zM240 81h4v4h-4zM236 89h4v4h-4zM248 93h4v4h-4zM208 97h4v4h-4zM252 97h4v4h-4zM192 105h4v4h-4zM136 109h4v4h-4zM164 109h4v4h-4zM148 113h4v4h-4zM264 113h4v4h-4zM168 117h4v4h-4zM152 121h4v4h-4zM172 121h4v4h-4zM184 121h4v4h-4zM144 125h4v4h-4zM156 125h4v4h-4zM168 125h4v4h-4zM136 129h4v4h-4zM248 129h4v4h-4zM96 133h4v4h-4zM108 133h4v4h-4zM220 133h4v4h-4zM88 137h4v4h-4zM112 141h4v4h-4zM212 141h4v4h-4zM72 145h4v4h-4zM92 145h4v4h-4zM224 145h4v4h-4zM84 149h4v4h-4zM116 149h4v4h-4zM128 149h4v4h-4zM216 149h4v4h-4zM76 153h4v4h-4zM96 153h4v4h-4zM108 157h4v4h-4zM120 157h4v4h-4zM212 157h4v4h-4zM88 161h4v4h-4zM88 165h4v4h-4zM124 165h4v4h-4zM64 169h4v4h-4zM128 173h4v4h-4zM208 177h4v4h-4zM264 177h4v4h-4zM184 181h4v4h-4zM200 181h4v4h-4zM256 181h4v4h-4zM184 185h4v4h-4zM80 189h4v4h-4zM152 189h4v4h-4zM164 189h4v4h-4zM236 189h4v4h-4zM176 193h4v4h-4zM120 197h4v4h-4zM156 197h4v4h-4zM212 197h4v4h-4zM192 201h4v4h-4zM236 201h4v4h-4zM244 201h4v4h-4zM252 201h4v4h-4zM128 205h4v4h-4zM220 205h4v4h-4zM152 209h4v4h-4zM196 209h4v4h-4zM212 209h4v4h-4zM224 209h4v4h-4zM268 209h4v4h-4zM200 213h4v4h-4zM216 213h4v4h-4zM204 217h4v4h-4zM124 221h4v4h-4zM152 225h4v4h-4zM200 233h8v4h-8zM228 237h4v4h-4zM160 241h4v4h-4zM124 245h4v4h-4zM168 265h4v4h-4z"/>
<path fill="#fefebc" d="M140 41h4v4h-4zM64 213h4v4h-4zM140 241h4v4h-4z"/>
<path fill="#fa9656" d="M176 41h4v4h-4zM176 65h4v4h-4zM176 69h4v4h-4zM172 77h8v4h-8zM268 121h4v4h-4zM272 125h4v4h-4zM260 149h4v4h-4zM268 153h4v4h-4zM252 165h4v4h-4zM272 169h4v4h-4zM92 177h4v4h-4zM108 185h4v4h-4zM104 193h4v4h-4zM96 197h4v4h-4zM104 197h4v4h-4zM272 217h4v4h-4zM164 229h4v4h-4zM188 229h4v4h-4zM112 237h4v4h-4zM180 241h4v4h-4zM248 241h4v4h-4z"/>
<path fill="#fa9456" d="M180 41h4v4h-4zM176 49h4v4h-4zM276 113h4v4h-4zM272 121h4v4h-4zM260 145h4v4h-4zM256 157h4v4h-4zM264 157h4v4h-4zM104 181h4v4h-4zM276 193h4v4h-4zM96 201h4v4h-4zM160 217h4v4h-4zM188 225h4v4h-4zM104 237h4v4h-4z"/>
<path fill="#febe6e" d="M188 41h4v4h-4zM232 49h4v4h-4zM236 61h4v4h-4zM152 65h4v4h-4zM228 65h4v4h-4zM248 65h4v4h-4zM160 69h4v4h-4zM240 69h4v4h-4zM124 73h4v4h-4zM136 73h4v4h-4zM156 73h4v4h-4zM232 73h4v4h-4zM200 77h4v4h-4zM224 77h4v4h-4zM128 81h4v4h-4zM236 81h4v4h-4zM204 85h4v4h-4zM248 85h4v4h-4zM208 89h4v4h-4zM140 97h4v4h-4zM220 97h4v4h-4zM168 101h4v4h-4zM204 101h4v4h-4zM216 109h4v4h-4zM256 109h4v4h-4zM144 113h4v4h-4zM200 113h4v4h-4zM256 113h4v4h-4zM156 117h4v4h-4zM204 117h4v4h-4zM148 121h4v4h-4zM208 121h4v4h-4zM140 125h4v4h-4zM112 129h4v4h-4zM132 129h4v4h-4zM192 129h4v4h-4zM212 129h4v4h-4zM104 133h4v4h-4zM240 133h4v4h-4zM216 137h4v4h-4zM108 141h4v4h-4zM208 141h4v4h-4zM132 145h4v4h-4zM220 145h4v4h-4zM112 149h4v4h-4zM124 149h4v4h-4zM136 149h4v4h-4zM72 153h4v4h-4zM92 153h4v4h-4zM208 153h4v4h-4zM84 157h4v4h-4zM104 157h4v4h-4zM116 157h4v4h-4zM128 157h4v4h-4zM216 157h4v4h-4zM76 161h4v4h-4zM68 165h4v4h-4zM136 169h4v4h-4zM140 177h4v4h-4zM172 181h4v4h-4zM144 185h4v4h-4zM160 185h4v4h-4zM160 189h4v4h-4zM172 193h4v4h-4zM252 193h4v4h-4zM84 197h4v4h-4zM152 197h4v4h-4zM208 197h4v4h-4zM144 201h4v4h-4zM200 201h4v4h-4zM212 201h4v4h-4zM224 201h4v4h-4zM136 205h4v4h-4zM204 205h4v4h-4zM216 205h4v4h-4zM208 209h4v4h-4zM220 209h4v4h-4zM128 213h4v4h-4zM232 213h4v4h-4zM132 217h4v4h-4zM152 217h4v4h-4zM140 221h4v4h-4zM200 221h4v4h-4zM128 225h4v4h-4zM208 225h4v4h-4zM228 245h4v4h-4zM124 249h8v4h-8zM164 249h4v4h-4zM164 261h4v4h-4z"/>
<path fill="#fed684" d="M208 41h4v4h-4zM168 137h4v4h-4zM192 149h4v4h-4zM180 169h4v4h-4zM264 189h4v4h-4zM132 233h4v4h-4zM148 245h4v4h-4zM148 261h4v4h-4z"/>
<path fill="#feea9a" d="M128 45h4v4h-4zM188 161h8v4h-8zM64 205h4v4h-4z"/>
<path fill="#feb064" d="M168 45h4v4h-4zM184 65h4v4h-4zM212 69h4v4h-4zM264 81h4v4h-4zM192 85h4v4h-4zM200 101h4v4h-4zM164 117h4v4h-4zM256 121h4v4h-4zM256 125h4v4h-4zM256 129h4v4h-4zM216 161h4v4h-4zM240 161h4v4h-4zM92 165h4v4h-4zM216 165h4v4h-4zM232 165h4v4h-4zM216 169h4v4h-4zM236 173h4v4h-4zM204 177h4v4h-4zM140 181h4v4h-4zM248 185h4v4h-4zM132 189h4v4h-4zM208 189h4v4h-4zM224 193h4v4h-4zM116 201h4v4h-4zM240 201h4v4h-4zM184 205h4v4h-4zM124 209h4v4h-4zM136 209h4v4h-4zM240 221h4v4h-4zM196 225h4v4h-4zM156 229h4v4h-4zM92 233h8v4h-8z"/>
<path fill="#fa9a58" d="M172 45h4v4h-4zM180 53h4v4h-4zM188 93h4v4h-4zM188 101h4v4h-4zM180 109h4v4h-4zM268 129h4v4h-4zM268 133h4v4h-4zM264 141h4v4h-4zM260 153h4v4h-4zM244 169h4v4h-4zM100 177h4v4h-4zM108 189h8v4h-8zM88 193h4v4h-4zM176 209h4v4h-4zM272 213h8v4h-8zM276 217h4v4h-4zM92 225h4v4h-4zM160 229h4v4h-4zM240 233h4v4h-4zM252 233h4v4h-4zM164 237h4v4h-4zM240 237h4v4h-4zM240 241h4v4h-4zM232 245h4v4h-4z"/>
<path fill="#fa9c58" d="M180 45h4v4h-4zM188 89h4v4h-4zM172 109h4v4h-4zM264 145h4v4h-4zM252 153h4v4h-4zM248 161h4v4h-4zM256 161h4v4h-4zM268 165h4v4h-4zM272 181h4v4h-4zM88 185h4v4h-4zM192 229h4v4h-4zM188 237h4v4h-4z"/>
<path fill="#fca65e" d="M184 45h4v4h-4zM180 57h4v4h-4zM180 65h4v4h-4zM268 109h4v4h-4zM260 129h4v4h-4zM260 141h4v4h-4zM248 149h4v4h-4zM236 157h4v4h-4zM244 161h4v4h-4zM228 165h4v4h-4zM220 169h4v4h-4zM88 173h4v4h-4zM96 173h4v4h-4zM112 173h4v4h-4zM252 173h4v4h-4zM112 177h4v4h-4zM224 177h4v4h-4zM244 177h4v4h-4zM120 185h4v4h-4zM84 189h4v4h-4zM276 201h4v4h-4zM104 209h4v4h-4zM112 209h4v4h-4zM260 213h4v4h-4zM188 217h4v4h-4zM112 221h8v4h-8zM116 241h4v4h-4zM172 249h4v4h-4z"/>
<path fill="#fee28c" d="M128 49h4v4h-4zM156 145h4v4h-4zM264 201h4v4h-4zM136 245h4v4h-4z"/>
<path fill="#fee694" d="M136 49h4v4h-4zM156 93h4v4h-4zM160 97h4v4h-4zM172 149h4v4h-4zM176 161h4v4h-4zM60 201h4v4h-4zM72 205h4v4h-4zM76 213h4v4h-4z"/>
<path fill="#feb868" d="M188 49h4v4h-4zM160 61h4v4h-4zM244 69h4v4h-4zM236 73h4v4h-4zM216 77h4v4h-4zM220 81h4v4h-4zM260 97h4v4h-4zM136 105h4v4h-4zM196 105h4v4h-4zM148 109h4v4h-4zM204 109h4v4h-4zM264 109h4v4h-4zM208 113h4v4h-4zM140 117h4v4h-4zM160 117h4v4h-4zM148 129h4v4h-4zM124 141h4v4h-4zM104 145h4v4h-4zM68 157h4v4h-4zM80 161h4v4h-4zM72 165h4v4h-4zM76 177h4v4h-4zM132 177h4v4h-4zM252 181h4v4h-4zM136 185h4v4h-4zM152 185h4v4h-4zM224 197h4v4h-4zM148 201h4v4h-4zM140 205h4v4h-4zM240 209h4v4h-4zM128 221h4v4h-4zM88 229h4v4h-4z"/>
<path fill="#fecc7c" d="M124 53h4v4h-4zM220 241h4v4h-4z"/>
<path fill="#feae62" d="M168 57h4v4h-4zM188 77h4v4h-4zM264 97h4v4h-4zM188 109h8v4h-8zM224 161h4v4h-4zM224 169h4v4h-4zM92 173h4v4h-4zM104 173h4v4h-4zM264 173h4v4h-4zM80 177h4v4h-4zM220 177h4v4h-4zM256 177h8v4h-8zM128 181h4v4h-4zM228 185h4v4h-4zM200 189h4v4h-4zM272 189h4v4h-4zM236 193h4v4h-4zM188 205h4v4h-4zM148 213h4v4h-4zM240 217h4v4h-4zM156 221h4v4h-4zM196 221h4v4h-4zM120 229h4v4h-4z"/>
<path fill="#febc6e" d="M152 61h4v4h-4zM164 61h4v4h-4zM124 69h4v4h-4zM148 73h4v4h-4zM220 73h4v4h-4zM212 77h4v4h-4zM244 77h4v4h-4zM132 85h4v4h-4zM220 85h4v4h-4zM224 89h4v4h-4zM260 89h4v4h-4zM228 93h4v4h-4zM212 105h4v4h-4zM144 109h4v4h-4zM136 117h4v4h-4zM180 121h4v4h-4zM152 125h4v4h-4zM164 125h4v4h-4zM172 129h4v4h-4zM148 133h4v4h-4zM204 133h4v4h-4zM128 137h4v4h-4zM120 141h4v4h-4zM148 141h4v4h-4zM100 145h4v4h-4zM204 145h4v4h-4zM64 157h4v4h-4zM132 161h4v4h-4zM72 173h4v4h-4zM80 173h4v4h-4zM172 185h4v4h-4zM172 189h4v4h-4zM192 189h4v4h-4zM184 193h4v4h-4zM220 197h4v4h-4zM120 201h4v4h-4zM188 201h4v4h-4zM124 205h4v4h-4zM236 205h4v4h-4zM140 213h4v4h-4zM128 233h4v4h-4zM228 233h4v4h-4zM204 237h8v4h-8zM232 249h4v4h-4z"/>
<path fill="#feb264" d="M168 61h4v4h-4zM188 69h4v4h-4zM188 81h12v4h-12zM196 85h8v4h-8zM168 89h4v4h-4zM260 93h4v4h-4zM268 97h4v4h-4zM192 101h8v4h-8zM264 101h4v4h-4zM160 109h4v4h-4zM152 113h4v4h-4zM168 113h4v4h-4zM196 113h4v4h-4zM156 121h4v4h-4zM176 121h4v4h-4zM148 125h4v4h-4zM140 129h4v4h-4zM244 137h4v4h-4zM244 141h4v4h-4zM228 145h4v4h-4zM244 145h4v4h-4zM220 149h4v4h-4zM244 149h4v4h-4zM100 153h4v4h-4zM92 161h4v4h-4zM84 165h4v4h-4zM116 165h4v4h-4zM84 169h4v4h-4zM116 169h4v4h-4zM132 169h4v4h-4zM120 173h4v4h-4zM216 173h4v4h-4zM84 177h4v4h-4zM136 177h4v4h-4zM228 177h4v4h-4zM124 181h4v4h-4zM196 181h4v4h-4zM204 181h4v4h-4zM212 181h4v4h-4zM232 181h4v4h-4zM80 185h4v4h-4zM128 185h4v4h-4zM140 185h4v4h-4zM144 189h4v4h-4zM240 189h4v4h-4zM84 193h4v4h-4zM120 193h4v4h-4zM192 193h4v4h-4zM212 193h4v4h-4zM160 197h4v4h-4zM228 197h4v4h-4zM248 197h4v4h-4zM152 201h4v4h-4zM184 201h4v4h-4zM120 205h4v4h-4zM144 205h4v4h-4zM168 205h4v4h-4zM180 205h4v4h-4zM160 209h4v4h-4zM236 209h4v4h-4zM256 209h4v4h-4zM128 217h4v4h-4zM148 217h4v4h-4zM200 225h4v4h-4zM240 225h4v4h-4zM124 229h4v4h-4zM196 229h4v4h-4zM236 229h4v4h-4zM120 233h4v4h-4zM96 241h4v4h-4zM116 245h4v4h-4zM168 249h4v4h-4z"/>
<path fill="#fca25c" d="M172 61h4v4h-4zM192 93h4v4h-4zM188 97h4v4h-4zM172 101h4v4h-4zM184 105h4v4h-4zM272 105h4v4h-4zM176 109h4v4h-4zM244 153h4v4h-4zM264 169h4v4h-4zM108 193h4v4h-4zM88 213h4v4h-4zM108 217h4v4h-4zM268 217h4v4h-4zM248 221h4v4h-4zM160 225h4v4h-4zM164 233h4v4h-4z"/>
<path fill="#fec472" d="M224 61h4v4h-4zM236 69h4v4h-4zM196 73h4v4h-4zM228 73h4v4h-4zM124 81h4v4h-4zM208 109h4v4h-4zM212 113h4v4h-4zM216 117h4v4h-4zM220 121h4v4h-4zM108 129h4v4h-4zM188 129h4v4h-4zM224 129h4v4h-4zM148 137h8v4h-8zM236 137h4v4h-4zM208 145h4v4h-4zM64 165h4v4h-4zM196 173h4v4h-4zM212 205h4v4h-4zM84 209h4v4h-4zM264 209h4v4h-4zM232 217h4v4h-4zM160 257h4v4h-4z"/>
<path fill="#feba6a" d="M160 65h4v4h-4zM188 65h4v4h-4zM252 69h4v4h-4zM224 73h4v4h-4zM244 73h4v4h-4zM256 77h4v4h-4zM260 85h4v4h-4zM244 89h4v4h-4zM256 93h4v4h-4zM264 93h4v4h-4zM204 97h4v4h-4zM156 109h4v4h-4zM200 109h4v4h-4zM212 121h4v4h-4zM248 125h4v4h-4zM104 129h4v4h-4zM204 129h4v4h-4zM128 133h4v4h-4zM120 137h4v4h-4zM140 137h4v4h-4zM200 137h4v4h-4zM220 137h4v4h-4zM80 141h4v4h-4zM100 141h4v4h-4zM136 145h4v4h-4zM104 149h4v4h-4zM208 149h4v4h-4zM64 153h4v4h-4zM96 157h4v4h-4zM108 161h4v4h-4zM136 161h4v4h-4zM60 165h4v4h-4zM80 165h4v4h-4zM108 165h4v4h-4zM140 165h4v4h-4zM200 173h4v4h-4zM200 177h4v4h-4zM76 181h4v4h-4zM132 181h4v4h-4zM148 181h4v4h-4zM192 181h4v4h-4zM208 181h4v4h-4zM260 181h4v4h-4zM164 185h4v4h-4zM124 189h4v4h-4zM224 189h4v4h-4zM196 193h4v4h-4zM272 193h4v4h-4zM144 197h4v4h-4zM176 197h4v4h-4zM200 197h4v4h-4zM84 201h4v4h-4zM124 201h4v4h-4zM136 201h4v4h-4zM176 201h4v4h-4zM204 201h4v4h-4zM216 201h4v4h-4zM148 205h4v4h-4zM208 205h4v4h-4zM132 213h4v4h-4zM196 213h4v4h-4zM84 217h4v4h-4zM136 217h4v4h-4zM208 221h4v4h-4zM92 237h4v4h-4zM156 241h4v4h-4zM160 249h4v4h-4zM168 253h4v4h-4zM164 257h4v4h-4z"/>
<path fill="#fa9856" d="M176 73h4v4h-4zM172 97h4v4h-4zM176 105h4v4h-4zM268 125h4v4h-4zM264 133h4v4h-4zM264 137h4v4h-4zM96 205h4v4h-4zM276 205h4v4h-4zM180 209h4v4h-4zM88 221h4v4h-4zM160 221h4v4h-4zM252 229h4v4h-4zM116 233h4v4h-4zM188 233h4v4h-4zM172 241h4v4h-4z"/>
<path fill="#f89054" d="M180 73h4v4h-4zM276 105h4v4h-4zM256 153h4v4h-4zM268 161h4v4h-4zM104 185h4v4h-4zM100 197h4v4h-4zM280 205h4v4h-4zM108 221h4v4h-4zM264 221h4v4h-4zM248 229h4v4h-4zM236 241h4v4h-4z"/>
<path fill="#febe70" d="M200 73h4v4h-4zM216 73h4v4h-4zM160 77h4v4h-4zM252 101h4v4h-4zM256 117h4v4h-4zM156 129h4v4h-4zM92 133h4v4h-4zM76 141h4v4h-4zM140 141h4v4h-4zM88 145h4v4h-4zM80 149h4v4h-4zM132 165h4v4h-4zM140 197h4v4h-4zM196 197h4v4h-4zM132 201h4v4h-4zM84 221h4v4h-4zM120 249h4v4h-4zM160 253h4v4h-4z"/>
<path fill="#f89052" d="M180 77h4v4h-4zM280 101h4v4h-4zM272 141h4v4h-4zM260 225h4v4h-4zM112 229h4v4h-4zM184 229h4v4h-4z"/>
<path fill="#fa9454" d="M184 77h4v4h-4zM184 101h4v4h-4zM272 117h4v4h-4zM92 197h4v4h-4zM100 205h4v4h-4zM188 221h4v4h-4zM272 221h4v4h-4zM104 225h4v4h-4zM248 237h4v4h-4z"/>
<path fill="#f26a42" d="M176 85h4v4h-4zM284 145h4v4h-4zM300 145h4v4h-4zM292 149h4v4h-4zM288 157h4v4h-4zM292 169h4v4h-4zM288 173h4v4h-4zM172 217h4v4h-4zM176 221h4v4h-4zM312 237h4v4h-4z"/>
<path fill="#fcae60" d="M268 85h4v4h-4zM176 113h4v4h-4zM188 117h4v4h-4zM232 153h4v4h-4zM240 153h4v4h-4zM224 157h4v4h-4zM224 165h4v4h-4zM256 169h4v4h-4zM124 173h4v4h-4zM212 173h4v4h-4zM224 181h4v4h-4zM76 185h4v4h-4zM116 189h4v4h-4zM108 197h4v4h-4zM164 201h4v4h-4zM244 213h4v4h-4zM124 225h4v4h-4zM192 225h4v4h-4zM120 241h4v4h-4z"/>
<path fill="#fed886" d="M152 89h4v4h-4z"/>
<path fill="#f0643e" d="M176 89h4v4h-4zM312 153h4v4h-4zM100 189h4v4h-4zM280 189h4v4h-4zM292 189h4v4h-4zM164 217h4v4h-4zM276 241h4v4h-4zM300 241h4v4h-4z"/>
<path fill="#f47246" d="M180 89h4v4h-4zM296 117h4v4h-4zM288 121h4v4h-4zM292 129h4v4h-4zM304 129h4v4h-4zM296 141h4v4h-4zM288 145h4v4h-4zM296 145h4v4h-4zM284 153h4v4h-4zM280 157h4v4h-4zM100 193h4v4h-4zM288 209h4v4h-4zM92 213h4v4h-4zM292 221h4v4h-4zM284 237h4v4h-4zM288 245h4v4h-4zM296 245h4v4h-4zM276 249h4v4h-4zM308 249h4v4h-4zM280 253h4v4h-4zM300 253h4v4h-4z"/>
<path fill="#f8fcb6" d="M160 93h4v4h-4zM160 153h8v4h-8z"/>
<path fill="#eef8a8" d="M164 93h4v4h-4z"/>
<path fill="#f67e4a" d="M172 93h4v4h-4zM292 121h4v4h-4zM288 133h4v4h-4zM276 137h4v4h-4zM284 205h4v4h-4zM284 221h4v4h-4zM276 229h4v4h-4z"/>
<path fill="#f26840" d="M180 93h4v4h-4zM292 141h4v4h-4zM292 145h4v4h-4zM296 161h4v4h-4zM96 185h4v4h-4zM288 193h4v4h-4zM92 217h4v4h-4zM300 233h4v4h-4zM308 233h4v4h-4zM296 237h4v4h-4zM232 241h4v4h-4zM280 245h4v4h-4zM284 249h4v4h-4z"/>
<path fill="#fca05a" d="M272 93h4v4h-4zM272 101h4v4h-4zM256 149h4v4h-4zM240 165h4v4h-4zM232 169h4v4h-4zM100 173h4v4h-4zM244 173h4v4h-4zM268 173h4v4h-4zM92 201h4v4h-4zM164 209h4v4h-4zM248 213h4v4h-4zM88 217h4v4h-4zM248 217h4v4h-4zM244 225h4v4h-4zM96 229h4v4h-4zM244 229h4v4h-4zM100 233h4v4h-4zM192 237h4v4h-4zM244 237h4v4h-4z"/>
<path fill="#f67646" d="M180 97h4v4h-4zM280 121h4v4h-4zM292 133h4v4h-4zM288 149h4v4h-4zM284 169h4v4h-4zM164 213h4v4h-4zM292 237h4v4h-4zM260 249h4v4h-4z"/>
<path fill="#f6824c" d="M184 97h4v4h-4zM276 117h4v4h-4zM276 141h4v4h-4zM276 169h4v4h-4zM276 189h4v4h-4zM280 209h4v4h-4zM180 221h4v4h-4zM100 225h4v4h-4zM284 225h4v4h-4zM172 229h4v4h-4z"/>
<path fill="#f6804c" d="M284 101h4v4h-4zM280 105h4v4h-4zM288 113h4v4h-4zM284 125h4v4h-4zM308 129h4v4h-4zM280 133h4v4h-4zM272 145h4v4h-4zM280 153h4v4h-4zM276 157h4v4h-4zM100 185h4v4h-4zM92 193h4v4h-4zM176 217h4v4h-4zM92 221h4v4h-4zM168 229h4v4h-4zM260 229h4v4h-4zM180 233h8v4h-8zM108 237h4v4h-4zM288 237h4v4h-4zM256 245h4v4h-4z"/>
<path fill="#f8844e" d="M284 105h4v4h-4zM280 113h4v4h-4zM276 121h4v4h-4zM280 137h4v4h-4zM272 149h4v4h-4zM280 169h4v4h-4zM284 209h4v4h-4zM180 225h4v4h-4zM268 225h4v4h-4zM276 225h4v4h-4zM104 229h4v4h-4zM272 229h4v4h-4zM176 233h4v4h-4zM248 249h4v4h-4z"/>
<path fill="#f8824e" d="M280 109h4v4h-4zM272 161h4v4h-4zM92 185h4v4h-4zM280 197h4v4h-4zM180 217h4v4h-4zM100 221h4v4h-4zM284 229h4v4h-4zM248 245h4v4h-4zM256 249h4v4h-4z"/>
<path fill="#f47446" d="M292 109h4v4h-4zM284 133h4v4h-4zM280 141h4v4h-4zM100 217h4v4h-4zM260 237h4v4h-4zM288 249h4v4h-4z"/>
<path fill="#feb666" d="M140 113h4v4h-4zM260 117h4v4h-4zM128 129h4v4h-4zM80 157h4v4h-4zM116 177h4v4h-4zM244 185h4v4h-4zM144 193h4v4h-4zM136 197h4v4h-4zM244 197h4v4h-4zM232 205h4v4h-4zM208 217h4v4h-4z"/>
<path fill="#fca65c" d="M172 113h4v4h-4zM260 125h4v4h-4zM260 137h4v4h-4zM248 145h4v4h-4zM116 181h4v4h-4zM112 213h4v4h-4zM256 213h4v4h-4zM116 217h4v4h-4zM160 233h4v4h-4zM168 245h4v4h-4z"/>
<path fill="#f8864e" d="M280 117h4v4h-4zM276 125h4v4h-4zM272 129h4v4h-4zM276 145h4v4h-4zM92 189h4v4h-4zM280 213h4v4h-4zM260 221h4v4h-4zM276 221h4v4h-4zM264 229h4v4h-4zM104 233h4v4h-4zM184 237h4v4h-4z"/>
<path fill="#f46e44" d="M292 125h4v4h-4zM296 133h4v4h-4zM288 137h4v4h-4zM284 149h4v4h-4zM288 161h4v4h-4zM276 185h4v4h-4zM284 197h4v4h-4zM96 213h4v4h-4zM296 229h4v4h-4zM296 241h4v4h-4zM304 241h4v4h-4zM280 249h4v4h-4zM300 249h4v4h-4z"/>
<path fill="#f67a48" d="M288 129h4v4h-4zM276 133h4v4h-4zM284 173h4v4h-4zM280 225h4v4h-4zM176 229h4v4h-4zM264 233h4v4h-4z"/>
<path fill="#f46c42" d="M296 129h4v4h-4zM300 137h4v4h-4zM300 141h4v4h-4zM292 153h4v4h-4zM292 173h4v4h-4zM288 177h4v4h-4zM288 181h4v4h-4zM288 185h4v4h-4zM288 205h4v4h-4zM292 217h4v4h-4zM292 229h4v4h-4zM268 233h4v4h-4zM272 245h8v4h-8zM308 245h4v4h-4zM268 249h4v4h-4zM292 249h4v4h-4zM312 249h4v4h-4zM284 253h4v4h-4zM304 253h4v4h-4z"/>
<path fill="#fa9c5a" d="M256 137h4v4h-4zM264 161h4v4h-4z"/>
<path fill="#f47244" d="M296 137h4v4h-4zM260 241h4v4h-4z"/>
<path fill="#f88c50" d="M268 141h4v4h-4zM180 213h4v4h-4z"/>
<path fill="#f06440" d="M304 141h4v4h-4zM296 157h4v4h-4zM292 201h4v4h-4zM296 225h4v4h-4zM308 253h4v4h-4z"/>
<path fill="#fede88" d="M152 145h4v4h-4zM172 165h4v4h-4zM260 201h4v4h-4zM224 237h4v4h-4z"/>
<path fill="#fee89a" d="M164 145h4v4h-4zM188 157h4v4h-4zM152 161h4v4h-4z"/>
<path fill="#fee290" d="M168 145h4v4h-4zM76 225h4v4h-4zM136 233h4v4h-4z"/>
<path fill="#faa05a" d="M256 145h4v4h-4zM248 165h4v4h-4zM224 173h4v4h-4zM96 177h4v4h-4zM248 177h4v4h-4zM84 185h4v4h-4zM244 221h4v4h-4zM244 233h4v4h-4zM104 241h4v4h-4z"/>
<path fill="#ee623e" d="M304 145h4v4h-4zM296 153h4v4h-4zM292 161h4v4h-4zM304 245h4v4h-4z"/>
<path fill="#fef8b2" d="M160 149h4v4h-4zM264 193h4v4h-4z"/>
<path fill="#fef0a8" d="M168 149h4v4h-4zM60 213h4v4h-4z"/>
<path fill="#ee603e" d="M296 149h4v4h-4zM304 149h4v4h-4zM304 153h4v4h-4zM280 181h4v4h-4zM284 189h4v4h-4zM312 233h4v4h-4zM276 237h4v4h-4zM264 245h4v4h-4z"/>
<path fill="#f26842" d="M300 149h4v4h-4zM96 221h4v4h-4zM292 245h4v4h-4zM300 245h4v4h-4z"/>
<path fill="#ea583a" d="M308 149h4v4h-4zM300 153h4v4h-4zM296 165h4v4h-4zM296 193h4v4h-4z"/>
<path fill="#fefab6" d="M156 153h4v4h-4z"/>
<path fill="#fefab8" d="M168 153h4v4h-4z"/>
<path fill="#fee494" d="M192 153h4v4h-4zM148 237h4v4h-4z"/>
<path fill="#f06640" d="M288 153h4v4h-4zM292 165h4v4h-4zM288 169h4v4h-4zM96 189h4v4h-4zM168 213h4v4h-4zM292 213h4v4h-4zM272 233h4v4h-4zM304 237h4v4h-4zM308 241h4v4h-4zM312 245h4v4h-4zM272 249h4v4h-4zM304 249h4v4h-4z"/>
<path fill="#ea5a3a" d="M308 153h4v4h-4zM300 157h4v4h-4zM320 161h4v4h-4zM320 165h4v4h-4zM296 169h4v4h-4zM296 213h4v4h-4z"/>
<path fill="#feea9e" d="M152 157h4v4h-4zM164 165h4v4h-4zM60 205h4v4h-4zM68 225h4v4h-4z"/>
<path fill="#ec5e3c" d="M292 157h4v4h-4zM300 169h4v4h-4zM296 177h4v4h-4zM292 197h8v4h-8zM300 229h4v4h-4zM304 233h4v4h-4zM272 237h4v4h-4zM272 241h4v4h-4z"/>
<path fill="#f0623e" d="M304 157h4v4h-4zM296 233h4v4h-4z"/>
<path fill="#e85438" d="M312 157h4v4h-4zM304 169h4v4h-4zM304 173h4v4h-4zM300 185h4v4h-4zM296 189h4v4h-4zM296 205h4v4h-4zM300 221h4v4h-4zM304 225h4v4h-4zM312 229h4v4h-4z"/>
<path fill="#ee5e3c" d="M316 157h4v4h-4zM292 209h4v4h-4zM308 237h4v4h-4zM312 241h4v4h-4z"/>
<path fill="#ec5c3c" d="M300 161h4v4h-4zM308 161h4v4h-4zM300 165h4v4h-4zM292 177h4v4h-4zM284 181h4v4h-4zM292 181h4v4h-4z"/>
<path fill="#e85236" d="M304 161h4v4h-4zM300 181h4v4h-4zM168 217h4v4h-4zM304 229h4v4h-4z"/>
<path fill="#e85638" d="M312 161h4v4h-4zM312 165h4v4h-4zM312 169h4v4h-4zM296 209h4v4h-4zM268 245h4v4h-4z"/>
<path fill="#e64e34" d="M316 161h4v4h-4zM316 169h4v4h-4z"/>
<path fill="#fedc86" d="M180 165h4v4h-4zM152 213h4v4h-4zM232 225h4v4h-4z"/>
<path fill="#f67e4c" d="M280 165h4v4h-4zM288 217h4v4h-4zM256 225h4v4h-4zM260 245h4v4h-4z"/>
<path fill="#e85238" d="M304 165h4v4h-4z"/>
<path fill="#e44a34" d="M308 165h4v4h-4zM308 169h4v4h-4zM308 173h4v4h-4zM96 217h4v4h-4zM264 237h4v4h-4z"/>
<path fill="#e64e36" d="M316 165h4v4h-4z"/>
<path fill="#ec5c3a" d="M296 173h4v4h-4zM296 221h4v4h-4zM308 229h4v4h-4z"/>
<path fill="#e44c34" d="M300 173h4v4h-4zM316 173h4v4h-4zM304 189h4v4h-4zM308 225h4v4h-4z"/>
<path fill="#e04230" d="M312 173h4v4h-4zM304 201h4v4h-4zM312 201h4v4h-4zM312 205h4v4h-4z"/>
<path fill="#e65036" d="M300 177h4v4h-4zM296 185h4v4h-4zM296 201h8v4h-8zM296 217h4v4h-4zM268 237h4v4h-4z"/>
<path fill="#e04430" d="M304 177h4v4h-4zM312 225h4v4h-4z"/>
<path fill="#e44a32" d="M308 177h4v4h-4zM300 193h4v4h-4zM308 197h4v4h-4z"/>
<path fill="#dc3c2c" d="M312 177h4v4h-4zM312 193h4v4h-4zM316 201h4v4h-4z"/>
<path fill="#d83428" d="M316 177h4v4h-4z"/>
<path fill="#e44e34" d="M296 181h4v4h-4zM300 197h4v4h-4z"/>
<path fill="#e24630" d="M304 181h4v4h-4zM316 193h4v4h-4zM312 221h4v4h-4z"/>
<path fill="#e24632" d="M308 181h4v4h-4zM284 185h4v4h-4zM300 189h4v4h-4zM308 193h4v4h-4z"/>
<path fill="#d62e26" d="M312 181h4v4h-4zM300 213h4v4h-4z"/>
<path fill="#d02826" d="M316 181h4v4h-4z"/>
<path fill="#da382a" d="M280 185h4v4h-4zM308 185h4v4h-4zM316 197h4v4h-4zM308 201h4v4h-4z"/>
<path fill="#ee603c" d="M292 185h4v4h-4zM288 189h4v4h-4z"/>
<path fill="#e24832" d="M304 185h4v4h-4z"/>
<path fill="#d83228" d="M312 185h4v4h-4zM308 205h4v4h-4zM300 209h4v4h-4z"/>
<path fill="#d22a26" d="M316 185h4v4h-4zM312 213h4v4h-4z"/>
<path fill="#de402e" d="M308 189h4v4h-4zM312 197h4v4h-4z"/>
<path fill="#d83028" d="M312 189h4v4h-4z"/>
<path fill="#dc3a2c" d="M316 189h4v4h-4zM300 205h8v4h-8z"/>
<path fill="#ea5638" d="M292 193h4v4h-4z"/>
<path fill="#de3e2e" d="M304 193h4v4h-4zM316 205h4v4h-4zM300 217h4v4h-4zM304 221h4v4h-4zM264 241h4v4h-4z"/>
<path fill="#e0422e" d="M304 197h4v4h-4z"/>
<path fill="#f46a42" d="M292 205h4v4h-4z"/>
<path fill="#ce2826" d="M304 209h4v4h-4z"/>
<path fill="#ca2426" d="M308 209h4v4h-4z"/>
<path fill="#d22c26" d="M312 209h4v4h-4z"/>
<path fill="#b81226" d="M304 213h4v4h-4z"/>
<path fill="#c41e26" d="M308 213h4v4h-4zM308 217h4v4h-4z"/>
<path fill="#fef6ae" d="M60 217h4v4h-4z"/>
<path fill="#c82226" d="M304 217h4v4h-4z"/>
<path fill="#da342a" d="M312 217h4v4h-4zM268 241h4v4h-4z"/>
<path fill="#fef4ae" d="M68 221h4v4h-4z"/>
<path fill="#da362a" d="M308 221h4v4h-4z"/>
<path fill="#e65236" d="M300 225h4v4h-4z"/>
<path fill="#fef6b2" d="M144 237h4v4h-4z"/>
<path fill="#7ab6da" d="M544 5h4v4h-4zM552 5h4v4h-4zM540 9h4v4h-4zM548 9h4v4h-4zM584 33h4v4h-4zM576 37h4v4h-4zM532 57h4v4h-4zM540 57h4v4h-4zM620 85h4v4h-4zM632 121h4v4h-4zM504 129h4v4h-4zM508 133h4v4h-4zM572 149h4v4h-4zM516 153h4v4h-4zM552 153h4v4h-4zM568 169h4v4h-4zM516 173h4v4h-4zM628 173h4v4h-4zM632 181h4v4h-4zM612 193h4v4h-4zM608 233h4v4h-4z"/>
<path fill="#70b0d8" d="M548 5h4v4h-4zM572 13h4v4h-4zM584 37h4v4h-4zM536 57h4v4h-4zM544 57h4v4h-4zM600 69h4v4h-4zM632 81h4v4h-4zM632 85h4v4h-4zM632 93h4v4h-4zM628 129h4v4h-4zM588 145h4v4h-4zM596 145h4v4h-4zM524 153h4v4h-4zM564 169h4v4h-4z"/>
<path fill="#70b2d8" d="M556 5h4v4h-4zM564 5h4v4h-4zM512 61h4v4h-4zM636 85h4v4h-4zM632 89h4v4h-4zM632 141h4v4h-4zM640 141h4v4h-4zM564 145h4v4h-4zM596 149h4v4h-4zM516 165h4v4h-4zM572 169h4v4h-4zM612 169h8v4h-8zM628 209h4v4h-4zM624 213h4v4h-4zM612 217h4v4h-4zM476 233h4v4h-4z"/>
<path fill="#68acd4" d="M560 5h4v4h-4zM576 45h4v4h-4zM536 61h4v4h-4zM608 85h8v4h-8zM640 109h4v4h-4zM648 117h4v4h-4zM624 125h4v4h-4zM636 141h4v4h-4zM552 145h4v4h-4zM592 145h4v4h-4zM532 149h4v4h-4zM604 149h4v4h-4zM632 149h4v4h-4zM616 157h4v4h-4zM548 161h4v4h-4zM564 173h4v4h-4zM636 173h4v4h-4zM636 185h4v4h-4zM668 185h4v4h-4zM524 193h4v4h-4zM632 201h4v4h-4zM620 205h4v4h-4zM628 205h4v4h-4zM616 213h4v4h-4zM636 213h4v4h-4z"/>
<path fill="#66aad4" d="M568 5h4v4h-4zM588 37h4v4h-4zM592 53h4v4h-4zM548 57h4v4h-4zM648 65h4v4h-4zM600 81h4v4h-4zM604 85h4v4h-4zM640 93h4v4h-4zM640 113h4v4h-4zM624 117h8v4h-8zM648 125h4v4h-4zM648 129h4v4h-4zM520 133h4v4h-4zM648 133h4v4h-4zM528 137h4v4h-4zM644 137h8v4h-8zM524 141h4v4h-4zM572 141h4v4h-4zM584 141h4v4h-4zM624 141h4v4h-4zM572 145h4v4h-4zM584 145h4v4h-4zM600 145h4v4h-4zM624 145h4v4h-4zM548 149h4v4h-4zM528 153h4v4h-4zM624 153h4v4h-4zM524 161h4v4h-4zM540 161h4v4h-4zM544 165h8v4h-8zM548 169h8v4h-8zM548 173h4v4h-4zM608 173h8v4h-8zM632 173h4v4h-4zM588 177h4v4h-4zM532 185h4v4h-4zM528 189h4v4h-4zM628 197h8v4h-8zM620 201h4v4h-4zM632 209h4v4h-4zM564 213h4v4h-4zM524 225h4v4h-4zM524 229h4v4h-4zM644 229h4v4h-4zM524 237h4v4h-4zM604 237h4v4h-4z"/>
<path fill="#84bcdc" d="M544 9h4v4h-4zM588 29h4v4h-4zM560 45h4v4h-4zM620 81h4v4h-4zM560 93h4v4h-4zM632 125h4v4h-4zM500 129h4v4h-4zM508 129h4v4h-4zM504 133h4v4h-4zM636 133h4v4h-4zM516 141h4v4h-4zM504 145h4v4h-4zM576 153h4v4h-4zM576 165h4v4h-4zM512 169h4v4h-4zM508 173h4v4h-4zM612 181h4v4h-4zM460 217h4v4h-4zM560 217h4v4h-4zM472 221h4v4h-4zM520 221h4v4h-4z"/>
<path fill="#72b2d8" d="M552 9h4v4h-4zM560 9h4v4h-4zM592 33h4v4h-4zM596 41h4v4h-4zM564 45h4v4h-4zM512 57h4v4h-4zM596 57h4v4h-4zM532 61h4v4h-4zM640 65h4v4h-4zM560 85h4v4h-4zM616 89h4v4h-4zM624 89h4v4h-4zM648 121h4v4h-4zM632 133h4v4h-4zM632 137h4v4h-4zM576 145h4v4h-4zM548 153h4v4h-4zM600 153h4v4h-4zM520 161h4v4h-4zM520 177h4v4h-4zM612 177h4v4h-4zM608 189h4v4h-4zM616 197h4v4h-4zM624 205h4v4h-4zM616 209h4v4h-4zM524 213h4v4h-4zM608 229h4v4h-4z"/>
<path fill="#7cb8da" d="M556 9h4v4h-4zM564 9h4v4h-4zM508 53h4v4h-4zM520 57h4v4h-4zM520 149h4v4h-4zM604 157h4v4h-4zM460 161h4v4h-4zM512 161h4v4h-4zM600 169h4v4h-4zM624 169h4v4h-4zM520 193h4v4h-4zM524 205h4v4h-4zM472 225h4v4h-4zM608 241h4v4h-4z"/>
<path fill="#6eb0d6" d="M568 9h4v4h-4zM576 41h4v4h-4zM568 49h4v4h-4zM596 53h4v4h-4zM552 57h4v4h-4zM524 61h4v4h-4zM640 69h4v4h-4zM636 73h4v4h-4zM636 77h4v4h-4zM636 81h4v4h-4zM556 89h4v4h-4zM556 93h4v4h-4zM624 93h4v4h-4zM644 113h4v4h-4zM520 129h4v4h-4zM624 129h4v4h-4zM520 137h4v4h-4zM520 157h4v4h-4zM604 161h4v4h-4zM604 165h4v4h-4zM624 165h4v4h-4zM628 169h4v4h-4zM560 173h4v4h-4zM584 173h4v4h-4zM596 173h4v4h-4zM608 177h4v4h-4zM524 185h4v4h-4zM608 185h4v4h-4zM608 193h4v4h-4zM524 197h4v4h-4zM612 197h4v4h-4zM612 205h4v4h-4zM620 209h4v4h-4zM476 221h4v4h-4zM612 225h4v4h-4zM484 233h4v4h-4zM484 237h4v4h-4zM608 237h4v4h-4zM520 249h4v4h-4z"/>
<path fill="#96c6e0" d="M536 13h4v4h-4zM544 13h4v4h-4zM548 49h4v4h-4zM636 57h4v4h-4zM616 77h4v4h-4zM644 125h4v4h-4zM476 149h4v4h-4zM492 149h4v4h-4zM484 153h4v4h-4zM568 153h4v4h-4zM504 157h4v4h-4zM500 161h4v4h-4zM480 165h4v4h-4zM484 169h4v4h-4zM612 185h4v4h-4zM480 193h4v4h-4zM516 201h4v4h-4zM460 205h4v4h-4zM460 209h4v4h-4zM560 221h4v4h-4zM608 245h4v4h-4z"/>
<path fill="#8cc0de" d="M540 13h4v4h-4zM600 61h4v4h-4zM612 81h4v4h-4zM564 89h4v4h-4zM500 133h4v4h-4zM492 145h4v4h-4zM468 149h4v4h-4zM484 149h4v4h-4zM572 153h4v4h-4zM460 157h4v4h-4zM576 157h4v4h-4zM600 161h4v4h-4zM560 165h4v4h-4zM568 165h4v4h-4zM472 169h4v4h-4zM476 173h4v4h-4zM480 177h4v4h-4zM508 177h4v4h-4zM476 189h4v4h-4zM516 197h4v4h-4zM628 225h4v4h-4z"/>
<path fill="#8ec2de" d="M548 13h4v4h-4zM572 37h4v4h-4zM544 49h4v4h-4zM480 137h4v4h-4zM492 137h4v4h-4zM484 141h4v4h-4zM496 141h4v4h-4zM476 145h4v4h-4zM508 145h4v4h-4zM496 149h4v4h-4zM584 153h4v4h-4zM504 169h4v4h-4zM616 177h4v4h-4zM468 221h4v4h-4zM488 229h4v4h-4zM492 233h4v4h-4zM636 233h4v4h-4zM612 241h4v4h-4z"/>
<path fill="#86bcdc" d="M552 13h4v4h-4zM604 41h4v4h-4zM548 53h4v4h-4zM628 77h8v4h-8zM496 125h4v4h-4zM512 149h4v4h-4zM596 153h4v4h-4zM464 157h4v4h-4zM504 161h4v4h-4zM624 177h4v4h-4zM612 189h4v4h-4zM480 221h4v4h-4zM624 221h4v4h-4z"/>
<path fill="#90c2de" d="M556 13h4v4h-4zM576 21h4v4h-4zM580 25h4v4h-4zM560 41h4v4h-4zM636 65h4v4h-4zM624 81h4v4h-4zM488 133h4v4h-4zM500 145h4v4h-4zM476 157h4v4h-4zM480 161h4v4h-4zM464 165h4v4h-4zM468 169h4v4h-4zM592 169h4v4h-4zM472 173h4v4h-4zM476 177h4v4h-4zM620 177h4v4h-4zM480 181h8v4h-8zM464 201h4v4h-4zM520 201h4v4h-4zM520 213h4v4h-4zM564 217h4v4h-4zM564 221h4v4h-4zM616 229h8v4h-8zM632 229h4v4h-4zM492 237h4v4h-4zM612 237h4v4h-4zM640 241h4v4h-4z"/>
<path fill="#86bedc" d="M560 13h4v4h-4zM552 49h4v4h-4zM520 53h4v4h-4zM632 129h4v4h-4zM496 137h4v4h-4zM476 141h4v4h-4zM500 141h4v4h-4zM508 157h4v4h-4zM580 157h4v4h-4zM468 161h4v4h-4zM520 197h4v4h-4z"/>
<path fill="#7cb6da" d="M564 13h4v4h-4zM616 85h4v4h-4zM640 133h4v4h-4zM584 149h4v4h-4zM624 217h4v4h-4z"/>
<path fill="#80bada" d="M568 13h4v4h-4zM580 21h4v4h-4zM568 41h4v4h-4zM536 53h4v4h-4zM604 73h4v4h-4zM628 85h4v4h-4zM628 89h4v4h-4zM492 129h4v4h-4zM496 133h4v4h-4zM480 141h4v4h-4zM472 145h4v4h-4zM556 149h4v4h-4zM572 161h4v4h-4zM460 165h4v4h-4zM512 165h4v4h-4zM556 165h4v4h-4zM580 165h4v4h-4zM464 169h4v4h-4zM596 169h4v4h-4zM468 173h4v4h-4zM628 181h4v4h-4zM516 185h4v4h-4zM620 217h4v4h-4zM632 217h4v4h-4zM464 221h4v4h-4zM628 221h4v4h-4zM464 225h4v4h-4zM520 229h4v4h-4zM636 229h4v4h-4zM520 233h4v4h-4zM640 237h4v4h-4z"/>
<path fill="#a4cce4" d="M532 17h4v4h-4zM552 17h4v4h-4zM572 21h4v4h-4zM572 25h4v4h-4zM612 37h4v4h-4zM524 49h4v4h-4zM536 49h4v4h-4zM604 57h4v4h-4zM604 65h4v4h-4zM504 189h4v4h-4zM488 193h4v4h-4zM480 213h4v4h-4zM500 229h4v4h-4z"/>
<path fill="#aed0e6" d="M536 17h4v4h-4zM544 45h4v4h-4zM608 49h4v4h-4zM608 69h4v4h-4zM624 69h4v4h-4zM616 189h4v4h-4zM504 201h4v4h-4zM484 209h4v4h-4zM624 237h4v4h-4z"/>
<path fill="#a8cee4" d="M540 17h4v4h-4zM568 21h4v4h-4zM572 29h4v4h-4zM540 45h4v4h-4zM604 61h4v4h-4zM620 181h4v4h-4zM488 185h8v4h-8zM496 189h4v4h-4zM484 201h4v4h-4zM496 201h4v4h-4zM492 225h12v4h-12zM628 237h4v4h-4zM612 245h4v4h-4z"/>
<path fill="#a0cce2" d="M544 17h4v4h-4zM576 25h4v4h-4zM572 33h4v4h-4zM608 45h4v4h-4zM528 49h4v4h-4zM484 161h4v4h-4zM512 197h4v4h-4zM516 217h4v4h-4zM512 233h4v4h-4z"/>
<path fill="#aad0e6" d="M548 17h4v4h-4zM528 45h4v4h-4zM616 185h4v4h-4zM624 189h4v4h-4zM512 201h4v4h-4zM488 209h4v4h-4zM512 209h4v4h-4z"/>
<path fill="#9ecae0" d="M556 17h4v4h-4zM632 65h4v4h-4zM624 73h4v4h-4zM596 157h4v4h-4zM492 165h4v4h-4zM480 173h4v4h-4zM488 189h4v4h-4zM636 237h4v4h-4z"/>
<path fill="#a6cee4" d="M560 17h4v4h-4zM564 37h4v4h-4zM608 41h4v4h-4zM612 73h4v4h-4zM560 89h4v4h-4zM640 121h4v4h-4zM492 157h4v4h-4zM560 157h8v4h-8zM584 161h4v4h-4zM492 173h4v4h-4zM496 177h4v4h-4zM484 193h4v4h-4zM500 193h4v4h-4zM476 197h4v4h-4zM492 197h4v4h-4zM504 197h4v4h-4zM508 201h4v4h-4zM468 205h4v4h-4zM488 205h4v4h-4zM480 209h4v4h-4zM516 209h4v4h-4zM512 225h4v4h-4z"/>
<path fill="#9ac8e0" d="M564 17h4v4h-4zM540 49h4v4h-4zM612 77h4v4h-4zM480 153h4v4h-4zM476 165h4v4h-4zM500 165h4v4h-4zM596 165h4v4h-4zM480 169h4v4h-4zM496 169h4v4h-4zM500 177h4v4h-4zM624 181h4v4h-4zM476 193h4v4h-4zM480 217h8v4h-8zM628 229h4v4h-4zM508 237h4v4h-4zM616 237h4v4h-4zM508 241h4v4h-4z"/>
<path fill="#88bedc" d="M568 17h8v4h-8zM576 33h4v4h-4zM532 53h4v4h-4zM540 53h4v4h-4zM600 57h4v4h-4zM636 69h4v4h-4zM632 73h4v4h-4zM616 81h4v4h-4zM488 129h4v4h-4zM492 133h4v4h-4zM484 137h4v4h-4zM488 141h4v4h-4zM480 145h4v4h-4zM472 149h4v4h-4zM576 149h4v4h-4zM588 149h4v4h-4zM588 153h4v4h-4zM580 161h4v4h-4zM472 165h4v4h-4zM504 177h4v4h-4zM628 177h4v4h-4zM512 181h4v4h-4zM512 189h4v4h-4zM624 193h4v4h-4zM636 225h4v4h-4zM484 229h4v4h-4zM516 237h4v4h-4zM516 241h4v4h-4zM516 245h4v4h-4z"/>
<path fill="#78b4d8" d="M576 17h4v4h-4zM508 57h4v4h-4zM508 61h4v4h-4zM512 129h4v4h-4zM512 137h4v4h-4zM624 137h4v4h-4zM516 149h4v4h-4zM556 169h4v4h-4zM632 221h4v4h-4zM468 229h4v4h-4zM612 229h4v4h-4z"/>
<path fill="#c6daee" d="M528 21h4v4h-4zM564 29h4v4h-4zM612 49h8v4h-8z"/>
<path fill="#c0d8ec" d="M532 21h4v4h-4zM568 29h4v4h-4zM536 37h4v4h-4zM544 37h4v4h-4zM540 41h4v4h-4zM628 49h4v4h-4zM588 161h4v4h-4zM504 217h4v4h-4zM624 241h4v4h-4z"/>
<path fill="#bad6ea" d="M536 21h4v4h-4zM564 21h4v4h-4zM564 33h4v4h-4zM612 69h4v4h-4zM564 161h4v4h-4z"/>
<path fill="#c4daee" d="M540 21h4v4h-4zM532 37h4v4h-4zM508 217h4v4h-4zM616 245h4v4h-4zM612 249h4v4h-4z"/>
<path fill="#bed8ec" d="M544 21h4v4h-4zM556 21h4v4h-4zM532 41h4v4h-4zM624 45h4v4h-4zM608 53h4v4h-4zM628 61h4v4h-4zM592 161h4v4h-4zM500 221h4v4h-4zM632 245h4v4h-4z"/>
<path fill="#b8d4ea" d="M548 21h4v4h-4zM548 37h4v4h-4zM616 37h4v4h-4zM624 41h4v4h-4zM612 45h8v4h-8zM628 45h4v4h-4zM588 165h4v4h-4zM512 221h4v4h-4zM504 225h4v4h-4zM628 241h4v4h-4z"/>
<path fill="#c2daee" d="M552 21h4v4h-4zM608 61h4v4h-4zM624 245h4v4h-4z"/>
<path fill="#b6d4ea" d="M560 21h4v4h-4zM568 33h4v4h-4zM524 37h4v4h-4zM544 41h4v4h-4zM532 45h4v4h-4zM632 57h4v4h-4zM628 65h4v4h-4zM592 165h4v4h-4zM496 217h4v4h-4zM512 217h4v4h-4z"/>
<path fill="#c8dcf0" d="M528 25h4v4h-4zM540 25h4v4h-4zM544 33h4v4h-4zM540 37h4v4h-4zM624 49h4v4h-4zM612 53h4v4h-4zM496 213h4v4h-4zM500 217h4v4h-4zM628 245h4v4h-4zM616 249h4v4h-4z"/>
<path fill="#cee0f2" d="M532 25h4v4h-4zM544 25h4v4h-4zM560 25h4v4h-4zM524 29h4v4h-4zM540 29h4v4h-4zM548 33h4v4h-4zM620 53h4v4h-4zM624 57h4v4h-4zM624 65h4v4h-4zM620 253h4v4h-4z"/>
<path fill="#ccdef0" d="M536 25h4v4h-4zM548 25h4v4h-4zM564 25h4v4h-4z"/>
<path fill="#d4e4f4" d="M552 25h4v4h-4zM532 29h4v4h-4zM544 29h4v4h-4zM472 209h4v4h-4z"/>
<path fill="#d6e6f4" d="M556 25h4v4h-4zM560 29h4v4h-4zM612 57h4v4h-4zM624 257h4v4h-4z"/>
<path fill="#bcd6ec" d="M568 25h4v4h-4zM620 41h4v4h-4zM608 65h4v4h-4zM492 209h4v4h-4zM504 221h4v4h-4zM636 249h4v4h-4z"/>
<path fill="#cce0f2" d="M528 29h4v4h-4zM540 33h4v4h-4zM616 69h4v4h-4zM476 209h4v4h-4zM624 249h4v4h-4zM628 253h4v4h-4z"/>
<path fill="#d0e2f2" d="M536 29h4v4h-4zM548 29h4v4h-4zM536 33h4v4h-4z"/>
<path fill="#d2e4f4" d="M552 29h4v4h-4zM616 53h4v4h-4zM472 213h4v4h-4zM624 253h4v4h-4zM620 257h4v4h-4z"/>
<path fill="#e4f0fa" d="M556 29h4v4h-4z"/>
<path fill="#92c4de" d="M576 29h8v4h-8zM568 37h4v4h-4zM604 45h4v4h-4zM632 69h4v4h-4zM504 141h4v4h-4zM488 145h4v4h-4zM480 149h4v4h-4zM468 153h4v4h-4zM488 153h4v4h-4zM580 153h4v4h-4zM568 157h4v4h-4zM484 165h4v4h-4zM500 173h4v4h-4zM476 181h4v4h-4zM504 181h4v4h-4zM512 185h4v4h-4zM460 201h4v4h-4zM464 205h4v4h-4zM464 213h4v4h-4zM464 217h4v4h-4zM492 229h4v4h-4zM500 241h4v4h-4z"/>
<path fill="#82bada" d="M584 29h4v4h-4zM600 45h4v4h-4zM600 53h4v4h-4zM640 117h4v4h-4zM484 133h4v4h-4zM488 137h4v4h-4zM508 137h4v4h-4zM492 141h4v4h-4zM580 149h4v4h-4zM464 153h4v4h-4zM468 157h4v4h-4zM600 157h4v4h-4zM552 161h4v4h-4zM628 193h4v4h-4zM620 225h4v4h-4z"/>
<path fill="#cadef0" d="M524 33h12v4h-12zM552 33h12v4h-12zM608 57h4v4h-4zM628 57h4v4h-4zM476 213h4v4h-4zM500 213h4v4h-4zM632 249h4v4h-4z"/>
<path fill="#8ac0dc" d="M580 33h4v4h-4zM640 57h4v4h-4zM624 85h4v4h-4zM644 121h4v4h-4zM556 157h4v4h-4zM464 161h4v4h-4zM508 161h4v4h-4zM556 161h4v4h-4zM576 161h4v4h-4zM628 185h4v4h-4zM628 189h4v4h-4zM616 233h4v4h-4zM488 237h4v4h-4z"/>
<path fill="#6aaed6" d="M588 33h4v4h-4zM580 37h4v4h-4zM564 49h4v4h-4zM556 53h4v4h-4zM516 61h4v4h-4zM524 65h4v4h-4zM620 129h4v4h-4zM524 133h4v4h-4zM524 145h4v4h-4zM568 145h4v4h-4zM640 145h4v4h-4zM552 149h4v4h-4zM520 153h4v4h-4zM612 153h4v4h-4zM608 157h4v4h-4zM628 161h4v4h-4zM612 165h4v4h-4zM576 169h4v4h-4zM604 169h4v4h-4zM588 173h4v4h-4zM604 173h4v4h-4zM528 177h4v4h-4zM584 177h4v4h-4zM596 177h4v4h-4zM600 185h4v4h-4zM608 197h4v4h-4zM612 201h8v4h-8zM608 213h4v4h-4zM640 213h4v4h-4zM568 221h4v4h-4zM640 221h4v4h-4zM560 225h4v4h-4zM608 225h4v4h-4zM644 241h4v4h-4z"/>
<path fill="#c6dcf0" d="M528 37h4v4h-4zM624 53h8v4h-8zM620 69h4v4h-4zM504 209h4v4h-4zM620 245h4v4h-4zM628 249h4v4h-4z"/>
<path fill="#bcd8ec" d="M552 37h4v4h-4z"/>
<path fill="#b2d2e8" d="M556 37h4v4h-4zM640 125h4v4h-4zM496 197h4v4h-4zM488 201h4v4h-4zM480 205h4v4h-4zM492 205h8v4h-8zM512 205h4v4h-4zM508 225h4v4h-4zM620 241h4v4h-4z"/>
<path fill="#b4d4e8" d="M560 37h4v4h-4zM620 45h4v4h-4zM632 53h4v4h-4zM632 61h4v4h-4zM616 73h4v4h-4zM500 201h4v4h-4zM508 221h4v4h-4z"/>
<path fill="#60a6d2" d="M592 37h4v4h-4zM540 61h4v4h-4zM556 61h4v4h-4zM536 69h4v4h-4zM596 69h4v4h-4zM644 69h4v4h-4zM644 77h4v4h-4zM604 89h4v4h-4zM628 109h4v4h-4zM644 109h4v4h-4zM624 121h4v4h-4zM532 141h4v4h-4zM588 141h4v4h-4zM540 145h4v4h-4zM644 145h4v4h-4zM628 149h4v4h-4zM532 157h4v4h-4zM612 157h4v4h-4zM528 165h4v4h-4zM608 165h4v4h-4zM524 173h4v4h-4zM532 177h4v4h-4zM540 177h4v4h-4zM592 177h4v4h-4zM640 177h4v4h-4zM552 181h4v4h-4zM564 181h4v4h-4zM576 181h4v4h-4zM592 181h4v4h-4zM592 185h4v4h-4zM592 189h4v4h-4zM596 197h4v4h-4zM604 205h4v4h-4zM640 209h4v4h-4zM600 217h12v4h-12zM528 221h4v4h-4zM476 237h4v4h-4zM600 237h4v4h-4z"/>
<path fill="#b0d2e8" d="M524 41h8v4h-8zM552 41h4v4h-4zM536 45h4v4h-4zM632 49h4v4h-4zM596 161h4v4h-4zM476 201h4v4h-4zM500 205h4v4h-4zM492 213h4v4h-4zM512 213h4v4h-4zM492 217h4v4h-4zM640 249h4v4h-4z"/>
<path fill="#b8d6ea" d="M536 41h4v4h-4zM504 205h4v4h-4zM508 209h4v4h-4z"/>
<path fill="#acd0e6" d="M548 41h4v4h-4zM612 41h4v4h-4zM520 45h8v4h-8zM604 53h4v4h-4zM620 73h4v4h-4zM496 181h4v4h-4zM620 185h4v4h-4zM492 189h4v4h-4zM496 193h4v4h-4zM504 193h4v4h-4zM488 197h4v4h-4zM500 197h4v4h-4zM508 197h4v4h-4zM480 201h4v4h-4zM492 201h4v4h-4zM476 205h4v4h-4zM484 205h4v4h-4zM484 213h8v4h-8zM488 217h4v4h-4zM492 221h4v4h-4zM508 233h4v4h-4zM616 241h4v4h-4zM632 241h8v4h-8zM636 245h4v4h-4z"/>
<path fill="#a2cce2" d="M556 41h4v4h-4zM548 45h4v4h-4zM608 73h4v4h-4zM588 157h4v4h-4zM496 161h4v4h-4zM488 165h4v4h-4zM492 169h4v4h-4zM492 181h4v4h-4zM500 181h4v4h-4zM496 185h4v4h-4zM492 193h4v4h-4zM508 193h4v4h-4zM468 201h8v4h-8zM516 221h4v4h-4zM516 225h4v4h-4zM500 233h8v4h-8zM620 233h4v4h-4zM504 237h4v4h-4zM504 241h4v4h-4zM640 245h4v4h-4z"/>
<path fill="#94c4de" d="M564 41h4v4h-4zM552 45h4v4h-4zM520 49h4v4h-4zM624 77h4v4h-4zM556 153h8v4h-8zM592 153h4v4h-4zM472 157h4v4h-4zM572 157h4v4h-4zM476 161h4v4h-4zM496 165h4v4h-4zM488 169h4v4h-4zM504 173h4v4h-4zM472 177h4v4h-4zM616 181h4v4h-4zM480 185h8v4h-8zM512 193h8v4h-8zM464 209h4v4h-4zM484 221h4v4h-4zM488 225h4v4h-4zM496 241h4v4h-4z"/>
<path fill="#6caed6" d="M572 41h4v4h-4zM516 57h4v4h-4zM600 73h4v4h-4zM640 73h4v4h-4zM632 97h4v4h-4zM528 141h4v4h-4zM580 145h4v4h-4zM632 145h4v4h-4zM528 161h4v4h-4zM524 169h4v4h-4zM520 173h4v4h-4zM520 185h4v4h-4zM632 185h4v4h-4zM604 189h4v4h-4zM632 189h4v4h-4zM604 193h4v4h-4zM616 205h4v4h-4zM528 213h4v4h-4zM556 217h4v4h-4zM556 221h4v4h-4zM480 229h4v4h-4zM480 233h4v4h-4zM644 233h4v4h-4zM480 237h4v4h-4zM520 237h4v4h-4zM520 241h4v4h-4zM520 245h4v4h-4z"/>
<path fill="#62a8d2" d="M580 41h4v4h-4zM592 45h4v4h-4zM596 61h4v4h-4zM520 65h4v4h-4zM528 65h4v4h-4zM596 65h4v4h-4zM644 65h4v4h-4zM644 81h4v4h-4zM564 85h4v4h-4zM640 85h4v4h-4zM552 89h4v4h-4zM636 89h4v4h-4zM636 93h4v4h-4zM560 97h4v4h-4zM636 97h4v4h-4zM624 101h4v4h-4zM636 101h4v4h-4zM524 129h4v4h-4zM532 133h4v4h-4zM580 137h4v4h-4zM620 137h4v4h-4zM560 141h4v4h-4zM576 141h4v4h-4zM596 141h4v4h-4zM604 141h4v4h-4zM616 141h4v4h-4zM608 145h4v4h-4zM628 145h4v4h-4zM528 149h4v4h-4zM616 153h4v4h-4zM524 157h4v4h-4zM540 157h4v4h-4zM628 157h4v4h-4zM624 161h4v4h-4zM528 169h4v4h-4zM536 169h4v4h-4zM608 169h4v4h-4zM636 169h4v4h-4zM556 173h4v4h-4zM568 173h4v4h-4zM600 173h4v4h-4zM552 177h4v4h-4zM636 181h4v4h-4zM528 185h4v4h-4zM528 201h4v4h-4zM636 205h4v4h-4zM660 205h4v4h-4zM612 209h4v4h-4zM564 225h4v4h-4zM604 233h4v4h-4zM648 241h4v4h-4z"/>
<path fill="#5aa2d0" d="M584 41h4v4h-4zM580 49h4v4h-4zM572 53h4v4h-4zM532 65h4v4h-4zM592 65h4v4h-4zM548 69h4v4h-4zM652 69h4v4h-4zM652 73h4v4h-4zM612 93h4v4h-4zM612 97h12v4h-12zM556 101h4v4h-4zM612 101h4v4h-4zM640 101h4v4h-4zM624 113h4v4h-4zM652 125h4v4h-4zM532 129h4v4h-4zM600 133h4v4h-4zM612 133h8v4h-8zM532 137h4v4h-4zM584 137h4v4h-4zM604 137h4v4h-4zM540 141h4v4h-4zM568 141h4v4h-4zM600 141h4v4h-4zM608 141h4v4h-4zM536 145h4v4h-4zM624 157h4v4h-4zM636 165h4v4h-4zM532 169h4v4h-4zM560 177h4v4h-4zM544 181h4v4h-4zM596 181h4v4h-4zM536 185h4v4h-4zM544 185h4v4h-4zM580 185h4v4h-4zM580 189h4v4h-4zM640 189h4v4h-4zM532 193h4v4h-4zM636 197h4v4h-4zM596 213h12v4h-12zM652 233h4v4h-4zM524 249h4v4h-4zM648 249h4v4h-4z"/>
<path fill="#64aad4" d="M588 41h4v4h-4zM572 45h4v4h-4zM588 45h4v4h-4zM596 45h4v4h-4zM592 49h4v4h-4zM544 65h4v4h-4zM648 69h4v4h-4zM640 89h4v4h-4zM552 93h4v4h-4zM628 97h4v4h-4zM620 125h4v4h-4zM620 141h4v4h-4zM644 141h4v4h-4zM532 145h4v4h-4zM636 145h4v4h-4zM544 149h4v4h-4zM624 149h4v4h-4zM608 153h4v4h-4zM544 161h4v4h-4zM612 161h4v4h-4zM536 173h4v4h-4zM524 177h4v4h-4zM564 177h4v4h-4zM576 177h4v4h-4zM588 181h4v4h-4zM604 181h4v4h-4zM668 181h4v4h-4zM528 205h4v4h-4zM604 209h4v4h-4zM604 221h8v4h-8zM524 233h4v4h-4z"/>
<path fill="#60a8d2" d="M592 41h4v4h-4zM548 61h4v4h-4zM616 125h4v4h-4zM544 157h4v4h-4zM620 157h4v4h-4zM528 225h4v4h-4zM528 229h4v4h-4z"/>
<path fill="#78b6d8" d="M600 41h4v4h-4zM512 53h4v4h-4zM552 53h4v4h-4zM604 77h4v4h-4zM520 145h4v4h-4zM512 157h4v4h-4zM548 157h4v4h-4zM572 165h4v4h-4zM580 169h8v4h-8zM592 173h4v4h-4zM520 181h4v4h-4zM524 221h4v4h-4zM612 221h8v4h-8zM468 225h4v4h-4z"/>
<path fill="#aed2e6" d="M616 41h4v4h-4zM592 157h4v4h-4zM620 189h4v4h-4zM472 205h4v4h-4zM496 221h4v4h-4zM508 229h4v4h-4z"/>
<path fill="#94c6e0" d="M556 45h4v4h-4zM520 217h4v4h-4z"/>
<path fill="#76b4d8" d="M568 45h4v4h-4zM600 49h4v4h-4zM524 57h4v4h-4zM520 61h4v4h-4zM640 61h4v4h-4zM608 81h4v4h-4zM628 137h4v4h-4zM628 141h4v4h-4zM564 149h4v4h-4zM600 149h4v4h-4zM520 165h4v4h-4zM620 165h4v4h-4zM560 169h4v4h-4zM512 173h4v4h-4zM624 173h4v4h-4zM516 181h4v4h-4zM624 197h4v4h-4zM524 201h4v4h-4zM620 213h4v4h-4zM524 217h4v4h-4zM628 217h4v4h-4zM620 221h4v4h-4zM480 225h4v4h-4zM644 245h4v4h-4z"/>
<path fill="#5ea6d0" d="M580 45h4v4h-4zM648 105h4v4h-4zM528 125h4v4h-4zM592 137h4v4h-4zM556 177h4v4h-4zM604 177h4v4h-4zM532 201h4v4h-4zM476 225h4v4h-4z"/>
<path fill="#58a0ce" d="M584 45h4v4h-4zM540 69h4v4h-4zM592 69h4v4h-4zM540 93h4v4h-4zM652 93h4v4h-4zM616 101h4v4h-4zM632 101h4v4h-4zM616 105h4v4h-4zM632 105h4v4h-4zM644 105h4v4h-4zM652 109h4v4h-4zM608 129h4v4h-4zM536 133h4v4h-4zM580 133h4v4h-4zM596 137h4v4h-4zM616 145h4v4h-4zM540 149h4v4h-4zM536 157h4v4h-4zM584 181h4v4h-4zM568 189h4v4h-4zM644 201h4v4h-4zM640 205h4v4h-4zM592 209h4v4h-4zM648 209h4v4h-4zM532 217h4v4h-4zM524 245h4v4h-4z"/>
<path fill="#9cc8e0" d="M532 49h4v4h-4zM484 157h4v4h-4zM484 173h4v4h-4zM492 177h4v4h-4zM620 193h4v4h-4zM516 213h4v4h-4z"/>
<path fill="#8abedc" d="M556 49h4v4h-4zM516 53h4v4h-4zM600 65h4v4h-4zM644 129h4v4h-4zM508 141h4v4h-4zM476 153h4v4h-4zM512 153h4v4h-4zM504 165h4v4h-4zM600 165h4v4h-4zM476 169h4v4h-4zM516 189h4v4h-4zM520 209h4v4h-4zM488 233h4v4h-4zM516 233h4v4h-4z"/>
<path fill="#78b6da" d="M560 49h4v4h-4zM608 181h4v4h-4z"/>
<path fill="#5ea6d2" d="M572 49h4v4h-4zM564 57h4v4h-4zM528 69h4v4h-4zM596 73h4v4h-4zM644 73h4v4h-4zM640 81h4v4h-4zM608 89h8v4h-8zM644 97h4v4h-4zM640 105h4v4h-4zM620 121h4v4h-4zM528 133h4v4h-4zM536 137h4v4h-4zM568 137h4v4h-4zM616 137h4v4h-4zM528 145h4v4h-4zM536 149h4v4h-4zM636 149h4v4h-4zM628 153h4v4h-4zM616 161h4v4h-4zM632 161h4v4h-4zM536 165h4v4h-4zM632 169h4v4h-4zM568 177h4v4h-4zM580 177h4v4h-4zM596 193h4v4h-4zM640 197h4v4h-4zM600 201h4v4h-4zM608 205h4v4h-4zM528 217h4v4h-4zM644 225h4v4h-4z"/>
<path fill="#529ecc" d="M576 49h4v4h-4zM568 57h4v4h-4zM560 65h4v4h-4zM524 77h4v4h-4zM544 93h4v4h-4zM644 101h4v4h-4zM652 105h4v4h-4zM612 113h4v4h-4zM600 117h4v4h-4zM536 121h4v4h-4zM572 125h4v4h-4zM608 125h4v4h-4zM564 129h4v4h-4zM600 129h4v4h-4zM544 141h4v4h-4zM652 141h4v4h-4zM652 145h4v4h-4zM640 153h4v4h-4zM636 161h4v4h-4zM548 185h4v4h-4zM572 189h4v4h-4zM572 193h4v4h-4zM592 201h4v4h-4zM664 201h4v4h-4zM532 209h4v4h-4zM572 209h4v4h-4zM648 217h4v4h-4zM596 225h4v4h-4zM648 229h4v4h-4zM528 237h4v4h-4zM652 249h4v4h-4zM528 261h4v4h-4z"/>
<path fill="#549ece" d="M584 49h4v4h-4zM552 65h4v4h-4zM532 73h4v4h-4zM648 73h4v4h-4zM656 77h4v4h-4zM524 81h4v4h-4zM568 85h4v4h-4zM540 89h4v4h-4zM652 89h4v4h-4zM660 89h4v4h-4zM544 97h4v4h-4zM560 101h4v4h-4zM604 105h4v4h-4zM648 109h4v4h-4zM576 129h4v4h-4zM588 129h4v4h-4zM612 129h4v4h-4zM560 137h4v4h-4zM588 137h4v4h-4zM556 141h4v4h-4zM612 141h4v4h-4zM648 141h4v4h-4zM548 177h4v4h-4zM644 177h4v4h-4zM640 181h4v4h-4zM648 189h4v4h-4zM588 201h4v4h-4zM592 205h4v4h-4zM572 217h4v4h-4zM572 221h4v4h-4zM596 229h4v4h-4zM528 241h4v4h-4z"/>
<path fill="#549ecc" d="M588 49h4v4h-4zM524 73h4v4h-4zM532 93h4v4h-4zM620 105h4v4h-4zM636 105h4v4h-4zM608 109h4v4h-4zM532 125h4v4h-4zM544 133h4v4h-4zM604 133h4v4h-4zM540 137h4v4h-4zM548 137h4v4h-4zM608 137h4v4h-4zM536 141h4v4h-4zM640 157h4v4h-4zM548 181h4v4h-4zM560 185h4v4h-4zM572 185h4v4h-4zM588 189h4v4h-4zM588 193h4v4h-4zM588 197h4v4h-4zM644 197h4v4h-4zM596 205h4v4h-4zM644 209h4v4h-4zM576 213h4v4h-4z"/>
<path fill="#68acd6" d="M596 49h4v4h-4zM544 61h4v4h-4zM600 77h4v4h-4zM628 93h4v4h-4zM624 97h4v4h-4zM632 113h4v4h-4zM632 117h4v4h-4zM528 157h4v4h-4zM524 165h4v4h-4zM524 181h4v4h-4zM636 189h4v4h-4zM632 193h4v4h-4zM528 209h4v4h-4zM612 213h4v4h-4zM604 225h4v4h-4zM472 233h4v4h-4z"/>
<path fill="#a0cae2" d="M604 49h4v4h-4zM628 73h4v4h-4zM620 77h4v4h-4zM636 121h4v4h-4zM492 153h4v4h-4zM560 161h4v4h-4zM496 173h4v4h-4zM500 189h4v4h-4zM472 193h4v4h-4zM516 205h4v4h-4zM468 209h4v4h-4zM516 229h4v4h-4zM624 233h4v4h-4zM632 233h4v4h-4zM512 237h4v4h-4zM620 237h4v4h-4z"/>
<path fill="#c0d8ee" d="M620 49h4v4h-4zM496 209h4v4h-4zM504 213h8v4h-8z"/>
<path fill="#82badc" d="M524 53h4v4h-4zM628 81h4v4h-4zM564 93h4v4h-4zM636 117h4v4h-4zM512 133h4v4h-4zM552 157h4v4h-4zM516 177h4v4h-4zM520 205h4v4h-4zM612 233h4v4h-4z"/>
<path fill="#92c2de" d="M528 53h4v4h-4zM504 153h4v4h-4zM500 157h4v4h-4zM468 217h4v4h-4zM496 237h4v4h-4z"/>
<path fill="#7eb8da" d="M544 53h4v4h-4zM628 125h4v4h-4zM644 133h4v4h-4zM500 137h4v4h-4zM516 137h4v4h-4zM636 137h4v4h-4zM512 141h4v4h-4zM508 149h4v4h-4zM560 149h4v4h-4zM592 149h4v4h-4zM516 157h4v4h-4zM508 169h4v4h-4zM588 169h4v4h-4zM616 173h8v4h-8zM512 177h4v4h-4zM664 205h4v4h-4zM628 213h4v4h-4zM636 221h4v4h-4zM624 225h4v4h-4zM472 229h4v4h-4zM640 229h4v4h-4z"/>
<path fill="#70b0d6" d="M560 53h4v4h-4zM604 81h4v4h-4zM620 93h4v4h-4zM644 117h4v4h-4zM608 161h4v4h-4zM620 169h4v4h-4zM632 177h4v4h-4zM624 201h4v4h-4zM616 217h4v4h-4zM604 241h4v4h-4z"/>
<path fill="#64a8d2" d="M564 53h4v4h-4zM556 57h4v4h-4zM556 97h4v4h-4zM532 161h4v4h-4zM628 165h4v4h-4zM600 177h4v4h-4zM532 181h4v4h-4zM644 217h4v4h-4zM600 221h4v4h-4z"/>
<path fill="#56a0ce" d="M568 53h4v4h-4zM592 57h4v4h-4zM560 61h4v4h-4zM524 69h4v4h-4zM532 69h4v4h-4zM540 73h4v4h-4zM532 77h4v4h-4zM552 77h4v4h-4zM648 77h4v4h-4zM544 81h4v4h-4zM560 81h4v4h-4zM656 81h4v4h-4zM536 85h4v4h-4zM644 85h4v4h-4zM528 89h4v4h-4zM532 97h4v4h-4zM564 97h4v4h-4zM620 101h4v4h-4zM620 109h4v4h-4zM612 117h12v4h-12zM652 121h4v4h-4zM528 129h4v4h-4zM616 129h4v4h-4zM568 133h4v4h-4zM592 133h4v4h-4zM576 137h4v4h-4zM640 149h4v4h-4zM632 153h4v4h-4zM644 165h4v4h-4zM640 169h4v4h-4zM648 173h4v4h-4zM536 177h4v4h-4zM560 181h4v4h-4zM572 181h4v4h-4zM584 185h4v4h-4zM584 189h4v4h-4zM584 193h4v4h-4zM596 209h8v4h-8zM532 213h4v4h-4zM552 213h4v4h-4zM600 225h4v4h-4zM600 241h4v4h-4zM528 245h4v4h-4zM528 265h4v4h-4z"/>
<path fill="#4e9aca" d="M576 53h4v4h-4zM568 65h4v4h-4zM536 73h4v4h-4zM536 77h4v4h-4zM564 77h4v4h-4zM596 77h4v4h-4zM528 81h4v4h-4zM552 81h4v4h-4zM596 81h4v4h-4zM652 81h4v4h-4zM548 89h4v4h-4zM596 89h8v4h-8zM648 89h4v4h-4zM664 89h4v4h-4zM600 93h8v4h-8zM656 93h4v4h-4zM568 97h4v4h-4zM604 97h4v4h-4zM608 101h4v4h-4zM652 101h4v4h-4zM548 105h4v4h-4zM656 113h4v4h-4zM536 117h4v4h-4zM604 117h4v4h-4zM608 121h4v4h-4zM540 125h4v4h-4zM568 129h4v4h-4zM592 129h4v4h-4zM708 129h4v4h-4zM576 133h4v4h-4zM608 133h4v4h-4zM552 137h4v4h-4zM612 137h4v4h-4zM648 149h4v4h-4zM648 153h4v4h-4zM636 157h4v4h-4zM644 161h4v4h-4zM656 169h4v4h-4zM648 181h4v4h-4zM656 181h8v4h-8zM552 185h4v4h-4zM564 185h4v4h-4zM576 185h4v4h-4zM576 189h4v4h-4zM664 189h4v4h-4zM540 193h4v4h-4zM576 193h4v4h-4zM652 193h4v4h-4zM576 197h4v4h-4zM648 201h4v4h-4zM660 201h4v4h-4zM568 205h4v4h-4zM580 205h4v4h-4zM668 205h4v4h-4zM584 209h4v4h-4zM660 209h4v4h-4zM648 213h4v4h-4zM580 217h4v4h-4zM588 217h4v4h-4zM596 217h4v4h-4zM580 221h4v4h-4zM592 221h4v4h-4zM656 221h4v4h-4zM572 225h4v4h-4zM656 233h4v4h-4zM532 237h4v4h-4zM652 237h4v4h-4z"/>
<path fill="#4090c6" d="M580 53h4v4h-4zM580 65h4v4h-4zM580 69h8v4h-8zM560 73h4v4h-4zM672 93h4v4h-4zM588 109h4v4h-4zM572 117h4v4h-4zM544 121h4v4h-4zM556 121h4v4h-4zM568 121h4v4h-4zM664 121h4v4h-4zM672 121h4v4h-4zM560 125h4v4h-4zM688 125h4v4h-4zM660 129h4v4h-4zM684 137h4v4h-4zM676 141h4v4h-4zM660 153h4v4h-4zM676 161h4v4h-4zM652 165h4v4h-4zM660 165h4v4h-4zM544 201h4v4h-4zM656 205h4v4h-4zM664 213h4v4h-4zM536 217h4v4h-4zM552 217h4v4h-4zM560 229h4v4h-4zM660 233h4v4h-4zM532 257h4v4h-4z"/>
<path fill="#4a96c8" d="M584 53h4v4h-4zM556 73h4v4h-4zM540 101h4v4h-4zM564 101h4v4h-4zM572 205h4v4h-4zM532 221h4v4h-4zM596 237h4v4h-4z"/>
<path fill="#509ccc" d="M588 53h4v4h-4zM568 61h4v4h-4zM544 69h4v4h-4zM560 69h4v4h-4zM552 73h4v4h-4zM548 81h4v4h-4zM660 81h4v4h-4zM540 85h4v4h-4zM600 85h4v4h-4zM532 89h4v4h-4zM544 89h4v4h-4zM568 89h4v4h-4zM672 89h4v4h-4zM596 93h4v4h-4zM664 93h4v4h-4zM536 97h4v4h-4zM536 101h4v4h-4zM608 105h4v4h-4zM660 105h4v4h-4zM596 109h4v4h-4zM600 113h4v4h-4zM616 113h4v4h-4zM612 125h4v4h-4zM536 129h4v4h-4zM552 129h4v4h-4zM580 129h4v4h-4zM596 133h4v4h-4zM652 133h8v4h-8zM600 137h4v4h-4zM648 157h4v4h-4zM640 165h4v4h-4zM648 169h4v4h-4zM644 173h4v4h-4zM652 177h4v4h-4zM664 177h4v4h-4zM540 181h4v4h-4zM540 185h4v4h-4zM540 189h4v4h-4zM660 189h4v4h-4zM560 193h4v4h-4zM592 193h4v4h-4zM660 193h4v4h-4zM592 197h4v4h-4zM576 201h4v4h-4zM596 201h4v4h-4zM532 205h4v4h-4zM596 221h4v4h-4zM592 225h4v4h-4zM652 225h4v4h-4zM528 233h4v4h-4zM652 241h4v4h-4zM528 257h4v4h-4z"/>
<path fill="#98c6e0" d="M636 53h4v4h-4zM608 77h4v4h-4zM636 125h4v4h-4zM484 145h4v4h-4zM496 145h4v4h-4zM500 149h4v4h-4zM496 153h4v4h-4zM488 157h4v4h-4zM472 161h4v4h-4zM508 181h4v4h-4zM508 189h4v4h-4zM472 217h4v4h-4zM628 233h4v4h-4z"/>
<path fill="#82bcdc" d="M528 57h4v4h-4zM512 145h4v4h-4zM568 149h4v4h-4zM508 153h4v4h-4zM476 185h4v4h-4zM620 197h4v4h-4zM460 213h4v4h-4zM520 225h4v4h-4zM616 225h4v4h-4zM632 225h4v4h-4zM644 249h4v4h-4z"/>
<path fill="#58a2ce" d="M560 57h4v4h-4zM552 61h4v4h-4zM592 61h4v4h-4zM532 81h4v4h-4zM648 81h4v4h-4zM524 85h4v4h-4zM548 85h8v4h-8zM644 89h4v4h-4zM640 97h4v4h-4zM648 101h4v4h-4zM628 113h4v4h-4zM552 141h4v4h-4zM592 141h4v4h-4zM548 145h4v4h-4zM620 149h4v4h-4zM632 157h4v4h-4zM640 161h4v4h-4zM540 165h4v4h-4zM544 173h4v4h-4zM544 177h4v4h-4zM536 181h4v4h-4zM644 181h4v4h-4zM556 185h4v4h-4zM568 185h4v4h-4zM640 185h4v4h-4zM532 189h4v4h-4zM636 193h4v4h-4zM560 209h4v4h-4zM568 213h4v4h-4zM576 217h4v4h-4zM644 221h8v4h-8zM600 229h4v4h-4zM648 233h4v4h-4z"/>
<path fill="#4694c8" d="M572 57h4v4h-4zM668 89h4v4h-4zM684 101h4v4h-4zM688 105h4v4h-4zM592 113h4v4h-4zM676 113h4v4h-4zM692 113h4v4h-4zM548 117h4v4h-4zM668 117h4v4h-4zM564 121h4v4h-4zM588 121h4v4h-4zM656 121h4v4h-4zM696 121h4v4h-4zM544 125h4v4h-4zM556 125h4v4h-4zM560 129h4v4h-4zM552 133h4v4h-4zM680 137h4v4h-4zM672 141h4v4h-4zM656 145h4v4h-4zM664 145h4v4h-4zM656 149h4v4h-4zM668 153h4v4h-4zM660 169h4v4h-4zM668 177h4v4h-4zM544 193h4v4h-4zM568 193h4v4h-4zM568 197h4v4h-4zM656 213h4v4h-4zM652 217h4v4h-4zM596 233h4v4h-4zM660 241h4v4h-4z"/>
<path fill="#4896c8" d="M576 57h4v4h-4zM588 57h4v4h-4zM576 61h4v4h-4zM564 65h4v4h-4zM556 69h4v4h-4zM548 73h4v4h-4zM564 73h4v4h-4zM540 77h4v4h-4zM560 77h4v4h-4zM592 77h4v4h-4zM568 81h4v4h-4zM592 81h4v4h-4zM664 81h4v4h-4zM592 85h4v4h-4zM656 85h4v4h-4zM668 93h4v4h-4zM676 93h4v4h-4zM540 97h4v4h-4zM568 101h4v4h-4zM552 105h4v4h-4zM600 105h4v4h-4zM656 105h4v4h-4zM664 105h4v4h-4zM672 105h4v4h-4zM552 109h4v4h-4zM604 109h4v4h-4zM688 109h4v4h-4zM536 113h4v4h-4zM544 113h4v4h-4zM564 113h4v4h-4zM588 113h4v4h-4zM568 117h4v4h-4zM596 117h4v4h-4zM692 117h4v4h-4zM540 121h4v4h-4zM536 125h4v4h-4zM568 125h4v4h-4zM592 125h4v4h-4zM656 125h4v4h-4zM696 125h4v4h-4zM596 129h4v4h-4zM664 129h4v4h-4zM564 133h4v4h-4zM688 133h4v4h-4zM700 133h4v4h-4zM556 137h4v4h-4zM644 153h4v4h-4zM656 165h4v4h-4zM664 165h4v4h-4zM652 169h4v4h-4zM656 177h4v4h-4zM672 177h4v4h-4zM652 185h4v4h-4zM544 189h4v4h-4zM648 193h4v4h-4zM568 201h4v4h-4zM584 201h4v4h-4zM560 205h4v4h-4zM652 205h4v4h-4zM552 209h4v4h-4zM576 221h4v4h-4zM564 229h4v4h-4zM656 229h4v4h-4zM528 249h8v4h-8zM532 265h4v4h-4z"/>
<path fill="#3686c0" d="M580 57h4v4h-4zM576 73h4v4h-4zM576 77h4v4h-4zM572 81h4v4h-4zM588 89h4v4h-4zM572 101h4v4h-4zM588 101h4v4h-4zM684 145h4v4h-4zM680 157h4v4h-4zM688 161h4v4h-4zM688 165h4v4h-4zM676 169h4v4h-4zM672 197h8v4h-8zM680 205h4v4h-4zM544 209h4v4h-4zM676 209h4v4h-4zM696 209h4v4h-4zM700 217h4v4h-4zM680 221h4v4h-4zM712 221h4v4h-4zM540 225h4v4h-4zM552 225h4v4h-4zM672 225h4v4h-4zM692 225h4v4h-4zM704 225h4v4h-4zM540 229h4v4h-4zM580 229h4v4h-4zM560 233h4v4h-4zM568 233h4v4h-4zM576 233h4v4h-4zM668 233h4v4h-4zM708 233h4v4h-4zM664 237h4v4h-4zM700 237h4v4h-4zM536 241h4v4h-4zM560 241h4v4h-4zM568 241h4v4h-4zM552 245h4v4h-4zM564 245h4v4h-4zM572 245h4v4h-4zM672 245h4v4h-4zM544 249h4v4h-4zM548 253h4v4h-4zM552 257h4v4h-4zM564 257h4v4h-4zM556 261h4v4h-4zM544 265h4v4h-4z"/>
<path fill="#3888c0" d="M584 57h4v4h-4zM576 69h4v4h-4zM568 105h4v4h-4zM576 109h4v4h-4zM572 113h4v4h-4zM680 121h4v4h-4zM692 141h4v4h-4zM692 145h4v4h-4zM692 149h4v4h-4zM700 149h4v4h-4zM676 173h4v4h-4zM668 213h4v4h-4zM676 213h4v4h-4zM544 217h4v4h-4zM664 221h4v4h-4zM536 229h4v4h-4zM536 233h4v4h-4zM556 237h4v4h-4zM556 249h4v4h-4zM560 253h4v4h-4zM568 253h4v4h-4zM540 257h4v4h-4zM536 261h4v4h-4z"/>
<path fill="#dae8f6" d="M616 57h4v4h-4zM620 65h4v4h-4z"/>
<path fill="#dceaf6" d="M620 57h4v4h-4z"/>
<path fill="#66acd4" d="M528 61h4v4h-4zM556 145h4v4h-4zM620 145h4v4h-4zM532 165h4v4h-4zM616 165h4v4h-4zM632 165h4v4h-4zM520 169h4v4h-4zM544 169h4v4h-4zM528 173h4v4h-4zM576 173h4v4h-4zM600 181h4v4h-4zM664 185h4v4h-4zM624 209h4v4h-4zM568 217h4v4h-4zM524 241h4v4h-4z"/>
<path fill="#5ca4d0" d="M564 61h4v4h-4zM540 65h4v4h-4zM548 65h4v4h-4zM556 65h4v4h-4zM528 73h4v4h-4zM640 77h4v4h-4zM652 77h4v4h-4zM556 81h4v4h-4zM556 85h4v4h-4zM648 85h4v4h-4zM608 93h4v4h-4zM616 93h4v4h-4zM644 93h4v4h-4zM628 105h4v4h-4zM632 109h4v4h-4zM616 121h4v4h-4zM588 133h4v4h-4zM572 137h4v4h-4zM580 141h4v4h-4zM604 145h4v4h-4zM612 145h4v4h-4zM608 149h4v4h-4zM616 149h4v4h-4zM644 149h4v4h-4zM532 153h4v4h-4zM544 153h4v4h-4zM620 153h4v4h-4zM636 153h4v4h-4zM536 161h4v4h-4zM640 173h4v4h-4zM556 181h4v4h-4zM568 181h4v4h-4zM580 181h4v4h-4zM596 185h4v4h-4zM644 185h4v4h-4zM536 189h4v4h-4zM600 189h4v4h-4zM600 193h4v4h-4zM640 193h4v4h-4zM532 197h4v4h-4zM600 197h4v4h-4zM604 201h4v4h-4zM636 201h4v4h-4zM632 205h4v4h-4zM636 209h4v4h-4zM556 213h4v4h-4zM644 213h4v4h-4zM604 229h4v4h-4zM600 233h4v4h-4zM648 237h4v4h-4zM524 253h4v4h-4z"/>
<path fill="#4494c6" d="M572 61h4v4h-4zM668 85h4v4h-4zM600 101h4v4h-4zM664 101h4v4h-4zM672 101h4v4h-4zM536 109h4v4h-4zM676 109h4v4h-4zM692 109h4v4h-4zM660 113h4v4h-4zM540 117h4v4h-4zM560 117h4v4h-4zM552 121h4v4h-4zM576 121h4v4h-4zM664 125h4v4h-4zM684 125h4v4h-4zM688 129h4v4h-4zM660 133h4v4h-4zM668 133h4v4h-4zM704 137h4v4h-4zM656 141h4v4h-4zM672 157h4v4h-4zM648 161h4v4h-4zM664 161h4v4h-4zM656 173h4v4h-4zM664 173h4v4h-4zM656 189h4v4h-4zM556 193h4v4h-4zM572 201h4v4h-4zM652 201h4v4h-4zM576 205h4v4h-4zM548 209h4v4h-4zM580 209h4v4h-4zM584 217h4v4h-4zM536 225h4v4h-4zM656 249h4v4h-4zM532 261h4v4h-4z"/>
<path fill="#3888c2" d="M580 61h4v4h-4zM588 93h4v4h-4zM676 133h4v4h-4zM700 145h4v4h-4zM684 149h4v4h-4zM680 161h4v4h-4zM552 201h4v4h-4zM688 217h4v4h-4zM700 221h4v4h-4zM672 229h4v4h-4zM664 241h4v4h-4zM564 261h4v4h-4z"/>
<path fill="#3080be" d="M584 61h4v4h-4zM580 77h4v4h-4zM580 101h4v4h-4zM684 165h4v4h-4zM700 201h4v4h-4zM680 213h4v4h-4zM684 221h4v4h-4zM668 225h4v4h-4zM708 225h4v4h-4zM700 229h4v4h-4zM572 241h4v4h-4zM668 245h4v4h-4zM696 245h4v4h-4zM544 257h4v4h-4z"/>
<path fill="#4c98ca" d="M588 61h4v4h-4zM528 77h4v4h-4zM540 81h4v4h-4zM532 85h4v4h-4zM656 89h4v4h-4zM608 97h4v4h-4zM676 97h4v4h-4zM552 101h4v4h-4zM560 105h4v4h-4zM592 105h8v4h-8zM612 105h4v4h-4zM540 109h4v4h-4zM600 109h4v4h-4zM656 109h4v4h-4zM652 113h4v4h-4zM664 113h4v4h-4zM544 117h4v4h-4zM592 117h4v4h-4zM560 121h4v4h-4zM596 121h4v4h-4zM544 129h4v4h-4zM656 129h4v4h-4zM540 133h4v4h-4zM548 133h4v4h-4zM644 169h4v4h-4zM660 173h4v4h-4zM552 189h4v4h-4zM652 189h4v4h-4zM536 193h4v4h-4zM540 197h4v4h-4zM580 201h4v4h-4zM536 205h4v4h-4zM556 205h4v4h-4zM588 213h4v4h-4zM568 225h4v4h-4zM532 229h4v4h-4zM532 233h4v4h-4zM528 253h4v4h-4z"/>
<path fill="#deeaf6" d="M612 61h4v4h-4z"/>
<path fill="#e8f2fa" d="M616 61h8v4h-8z"/>
<path fill="#d2e2f2" d="M624 61h4v4h-4zM620 249h4v4h-4zM616 253h4v4h-4z"/>
<path fill="#94c4e0" d="M636 61h4v4h-4z"/>
<path fill="#74b4d8" d="M644 61h4v4h-4zM628 121h4v4h-4zM516 133h4v4h-4zM640 137h4v4h-4zM520 141h4v4h-4zM516 145h4v4h-4zM516 169h4v4h-4zM524 189h4v4h-4zM640 233h4v4h-4z"/>
<path fill="#64a8d4" d="M536 65h4v4h-4zM560 145h4v4h-4zM612 149h4v4h-4zM536 153h4v4h-4zM552 173h4v4h-4zM588 185h4v4h-4zM628 201h4v4h-4zM608 209h4v4h-4zM640 217h4v4h-4z"/>
<path fill="#4292c6" d="M572 65h4v4h-4zM588 65h4v4h-4zM588 69h4v4h-4zM588 73h4v4h-4zM588 77h4v4h-4zM588 81h4v4h-4zM592 97h8v4h-8zM664 97h4v4h-4zM672 97h4v4h-4zM536 105h4v4h-4zM556 105h4v4h-4zM564 105h4v4h-4zM676 105h4v4h-4zM556 109h4v4h-4zM564 109h4v4h-4zM592 109h4v4h-4zM660 109h4v4h-4zM668 109h4v4h-4zM548 113h4v4h-4zM680 113h4v4h-4zM584 117h4v4h-4zM680 117h4v4h-4zM696 117h4v4h-4zM684 121h4v4h-4zM676 129h4v4h-4zM704 129h4v4h-4zM680 133h4v4h-4zM692 133h4v4h-4zM656 137h4v4h-4zM672 137h4v4h-4zM664 141h4v4h-4zM684 141h4v4h-4zM652 149h4v4h-4zM668 149h4v4h-4zM652 153h4v4h-4zM672 153h4v4h-4zM680 153h4v4h-4zM656 161h4v4h-4zM668 165h4v4h-4zM676 165h4v4h-4zM672 173h4v4h-4zM660 177h4v4h-4zM668 189h4v4h-4zM544 197h4v4h-4zM556 197h4v4h-4zM572 197h4v4h-4zM660 197h4v4h-4zM668 197h4v4h-4zM656 209h4v4h-4zM692 213h4v4h-4zM664 217h4v4h-4zM536 221h4v4h-4zM660 221h4v4h-4zM576 225h4v4h-4zM584 225h4v4h-4zM556 229h4v4h-4zM572 229h4v4h-4zM664 233h4v4h-4zM592 237h4v4h-4zM532 241h4v4h-4zM656 241h4v4h-4zM536 257h4v4h-4z"/>
<path fill="#3a8ac2" d="M576 65h4v4h-4zM572 85h4v4h-4zM572 105h4v4h-4zM584 105h4v4h-4zM568 109h4v4h-4zM584 113h4v4h-4zM676 117h4v4h-4zM668 121h4v4h-4zM680 125h4v4h-4zM672 129h4v4h-4zM684 129h4v4h-4zM668 137h4v4h-4zM700 137h4v4h-4zM680 141h4v4h-4zM700 141h4v4h-4zM664 149h4v4h-4zM656 153h4v4h-4zM684 153h4v4h-4zM692 153h4v4h-4zM672 161h4v4h-4zM680 165h4v4h-4zM680 169h4v4h-4zM676 177h4v4h-4zM676 181h4v4h-4zM672 201h4v4h-4zM668 209h4v4h-4zM688 209h4v4h-4zM544 213h4v4h-4zM684 213h4v4h-4zM668 217h4v4h-4zM676 217h4v4h-4zM664 225h4v4h-4zM552 233h8v4h-8zM668 237h4v4h-4zM560 245h4v4h-4zM664 245h4v4h-4zM536 249h4v4h-4zM564 249h4v4h-4zM660 249h4v4h-4zM544 253h4v4h-4zM548 257h4v4h-4zM540 261h4v4h-4zM552 261h4v4h-4zM536 265h4v4h-4zM556 265h4v4h-4z"/>
<path fill="#3e8ec4" d="M584 65h4v4h-4zM572 73h4v4h-4zM592 93h4v4h-4zM588 97h4v4h-4zM676 101h4v4h-4zM680 105h4v4h-4zM560 113h4v4h-4zM684 113h4v4h-4zM564 117h4v4h-4zM664 117h4v4h-4zM672 117h4v4h-4zM688 121h4v4h-4zM660 125h4v4h-4zM676 125h4v4h-4zM692 125h4v4h-4zM680 129h4v4h-4zM672 133h4v4h-4zM684 133h4v4h-4zM696 133h4v4h-4zM688 141h4v4h-4zM680 145h4v4h-4zM688 145h4v4h-4zM696 145h4v4h-4zM660 149h4v4h-4zM672 149h4v4h-4zM688 149h4v4h-4zM676 157h4v4h-4zM668 161h4v4h-4zM684 161h4v4h-4zM664 169h4v4h-4zM672 169h4v4h-4zM560 197h4v4h-4zM548 205h8v4h-8zM536 209h8v4h-8zM672 209h4v4h-4zM536 213h8v4h-8zM660 217h4v4h-4zM588 225h4v4h-4zM568 229h4v4h-4zM584 229h8v4h-8zM664 229h4v4h-4zM564 233h4v4h-4zM588 237h4v4h-4zM536 253h4v4h-4zM560 261h4v4h-4zM540 265h4v4h-4z"/>
<path fill="#d8e6f4" d="M612 65h4v4h-4zM616 257h4v4h-4z"/>
<path fill="#e4eef8" d="M616 65h4v4h-4z"/>
<path fill="#529ccc" d="M552 69h4v4h-4zM656 73h4v4h-4zM544 77h4v4h-4zM536 81h4v4h-4zM528 85h4v4h-4zM652 85h4v4h-4zM660 85h4v4h-4zM548 93h4v4h-4zM568 93h4v4h-4zM648 93h4v4h-4zM548 97h8v4h-8zM600 97h4v4h-4zM656 97h4v4h-4zM604 101h4v4h-4zM624 109h4v4h-4zM652 117h8v4h-8zM592 121h4v4h-4zM604 121h4v4h-4zM584 125h4v4h-4zM596 125h4v4h-4zM556 133h4v4h-4zM572 133h4v4h-4zM584 133h4v4h-4zM564 137h4v4h-4zM652 137h4v4h-4zM648 145h4v4h-4zM648 185h4v4h-4zM656 185h8v4h-8zM548 189h4v4h-4zM560 189h4v4h-4zM644 193h4v4h-4zM652 197h4v4h-4zM640 201h4v4h-4zM600 205h4v4h-4zM648 205h4v4h-4zM564 209h4v4h-4zM584 213h4v4h-4zM652 213h4v4h-4zM556 225h4v4h-4zM656 237h4v4h-4zM652 245h4v4h-4z"/>
<path fill="#4696c8" d="M564 69h4v4h-4zM592 73h4v4h-4zM660 93h4v4h-4zM680 97h4v4h-4zM592 101h8v4h-8zM608 113h4v4h-4zM660 117h4v4h-4zM600 121h4v4h-4zM580 125h4v4h-4zM604 125h4v4h-4zM700 129h4v4h-4zM660 137h4v4h-4zM676 149h4v4h-4zM668 169h4v4h-4zM556 189h4v4h-4zM656 193h4v4h-4zM552 197h4v4h-4zM584 197h4v4h-4zM668 201h4v4h-4zM588 205h4v4h-4zM660 225h4v4h-4zM660 245h4v4h-4z"/>
<path fill="#3c8cc4" d="M568 69h4v4h-4zM568 73h4v4h-4zM552 113h4v4h-4zM672 113h4v4h-4zM688 117h4v4h-4zM668 125h4v4h-4zM696 129h4v4h-4zM664 133h4v4h-4zM676 137h4v4h-4zM668 141h4v4h-4zM660 145h4v4h-4zM664 153h4v4h-4zM656 157h4v4h-4zM684 157h4v4h-4zM668 173h4v4h-4zM672 189h4v4h-4zM548 197h4v4h-4zM564 201h4v4h-4zM676 201h4v4h-4zM692 209h4v4h-4zM548 213h4v4h-4zM660 213h4v4h-4zM660 229h4v4h-4zM588 233h4v4h-4zM540 249h4v4h-4zM664 249h4v4h-4zM548 261h4v4h-4zM552 265h4v4h-4z"/>
<path fill="#4090c4" d="M572 69h4v4h-4zM584 73h4v4h-4zM568 77h4v4h-4zM668 105h4v4h-4zM548 109h4v4h-4zM584 109h4v4h-4zM680 109h4v4h-4zM540 113h4v4h-4zM568 113h4v4h-4zM576 113h4v4h-4zM552 117h4v4h-4zM588 117h4v4h-4zM684 117h4v4h-4zM548 125h4v4h-4zM668 129h4v4h-4zM692 129h4v4h-4zM664 137h4v4h-4zM696 137h4v4h-4zM696 141h4v4h-4zM668 145h4v4h-4zM680 149h4v4h-4zM664 157h4v4h-4zM672 181h4v4h-4zM672 185h4v4h-4zM548 193h4v4h-4zM668 193h8v4h-8zM560 201h4v4h-4zM688 213h4v4h-4zM588 221h4v4h-4zM552 229h4v4h-4zM592 229h4v4h-4zM592 233h4v4h-4zM556 257h4v4h-4z"/>
<path fill="#9ccae0" d="M604 69h4v4h-4zM488 149h4v4h-4zM584 157h4v4h-4zM568 161h4v4h-4zM504 185h4v4h-4zM480 189h8v4h-8zM616 193h4v4h-4zM632 237h4v4h-4z"/>
<path fill="#aacee4" d="M628 69h4v4h-4zM500 185h4v4h-4zM624 185h4v4h-4z"/>
<path fill="#509acc" d="M544 73h4v4h-4zM556 77h4v4h-4zM624 105h4v4h-4z"/>
<path fill="#3282be" d="M580 73h4v4h-4zM584 77h4v4h-4zM572 97h4v4h-4zM584 101h4v4h-4zM572 109h4v4h-4zM704 145h4v4h-4zM696 149h4v4h-4zM704 149h4v4h-4zM696 153h4v4h-4zM704 153h4v4h-4zM704 157h4v4h-4zM680 201h4v4h-4zM712 205h4v4h-4zM672 213h4v4h-4zM700 213h4v4h-4zM672 217h4v4h-4zM712 217h4v4h-4zM684 225h4v4h-4zM696 225h4v4h-4zM676 229h4v4h-4zM580 233h4v4h-4zM712 233h4v4h-4zM580 237h4v4h-4zM688 237h4v4h-4zM704 237h4v4h-4zM548 241h4v4h-4zM680 241h4v4h-4zM692 241h4v4h-4zM556 245h4v4h-4zM708 245h4v4h-4zM548 249h4v4h-4zM676 249h4v4h-4zM552 253h4v4h-4zM564 253h4v4h-4zM700 253h4v4h-4zM712 253h4v4h-4zM568 261h4v4h-4zM548 265h4v4h-4z"/>
<path fill="#4a98ca" d="M548 77h4v4h-4zM564 81h4v4h-4zM544 85h4v4h-4zM664 85h4v4h-4zM652 97h4v4h-4zM668 97h4v4h-4zM680 101h4v4h-4zM540 105h4v4h-4zM616 109h4v4h-4zM604 113h4v4h-4zM688 113h4v4h-4zM556 117h4v4h-4zM608 117h4v4h-4zM572 121h4v4h-4zM584 121h4v4h-4zM612 121h4v4h-4zM660 121h4v4h-4zM692 121h4v4h-4zM556 129h4v4h-4zM572 129h4v4h-4zM544 137h4v4h-4zM660 141h4v4h-4zM644 157h4v4h-4zM652 161h4v4h-4zM648 165h4v4h-4zM648 177h4v4h-4zM564 193h4v4h-4zM580 193h4v4h-4zM536 197h4v4h-4zM564 197h4v4h-4zM580 197h4v4h-4zM648 197h4v4h-4zM664 197h4v4h-4zM536 201h4v4h-4zM584 205h4v4h-4zM556 209h4v4h-4zM568 209h4v4h-4zM576 209h4v4h-4zM664 209h4v4h-4zM580 213h4v4h-4zM592 213h4v4h-4zM656 217h4v4h-4zM652 221h4v4h-4zM532 225h4v4h-4zM580 225h4v4h-4z"/>
<path fill="#3484be" d="M572 77h4v4h-4zM580 109h4v4h-4zM688 153h4v4h-4zM712 153h4v4h-4zM696 157h4v4h-4zM696 161h4v4h-4zM544 205h4v4h-4zM676 205h4v4h-4zM692 205h4v4h-4zM708 213h4v4h-4zM540 217h4v4h-4zM680 217h4v4h-4zM540 221h4v4h-4zM704 221h4v4h-4zM668 229h4v4h-4zM684 229h4v4h-4zM708 229h4v4h-4zM676 233h4v4h-4zM700 233h4v4h-4zM536 237h4v4h-4zM560 237h4v4h-4zM568 237h4v4h-4zM712 237h4v4h-4zM580 241h4v4h-4zM672 241h4v4h-4zM704 241h4v4h-4zM540 245h4v4h-4zM560 249h4v4h-4zM568 249h4v4h-4zM668 249h4v4h-4zM696 249h4v4h-4zM708 249h4v4h-4zM540 253h4v4h-4zM544 261h4v4h-4zM560 265h4v4h-4z"/>
<path fill="#4c9aca" d="M660 77h4v4h-4zM596 85h4v4h-4zM536 93h4v4h-4zM660 101h4v4h-4zM668 101h4v4h-4zM684 109h4v4h-4zM564 125h4v4h-4zM576 125h4v4h-4zM588 125h4v4h-4zM600 125h4v4h-4zM604 129h4v4h-4zM560 133h4v4h-4zM548 141h4v4h-4zM652 173h4v4h-4zM564 189h4v4h-4zM656 201h4v4h-4zM644 205h4v4h-4zM652 209h4v4h-4zM572 213h4v4h-4zM592 217h4v4h-4zM596 241h4v4h-4zM532 253h4v4h-4z"/>
<path fill="#2878b8" d="M576 81h4v4h-4zM576 85h4v4h-4zM580 97h4v4h-4zM712 157h4v4h-4zM712 161h4v4h-4zM712 165h4v4h-4zM688 169h4v4h-4zM712 169h4v4h-4zM688 173h4v4h-4zM704 173h4v4h-4zM696 177h4v4h-4zM712 185h4v4h-4zM716 189h4v4h-4zM704 197h4v4h-4zM696 201h4v4h-4zM716 201h4v4h-4zM700 205h4v4h-4zM552 221h4v4h-4zM540 233h4v4h-4zM684 233h4v4h-4zM576 237h4v4h-4zM688 241h4v4h-4zM680 245h4v4h-4zM684 253h4v4h-4z"/>
<path fill="#3080bc" d="M580 81h8v4h-8zM576 105h4v4h-4zM716 157h4v4h-4zM684 169h4v4h-4zM684 173h4v4h-4zM696 197h4v4h-4zM708 197h4v4h-4zM688 201h4v4h-4zM684 205h4v4h-4zM704 205h4v4h-4zM704 217h4v4h-4zM696 221h4v4h-4zM676 225h4v4h-4zM544 229h4v4h-4zM544 233h4v4h-4zM584 233h4v4h-4zM688 233h4v4h-4zM584 237h4v4h-4zM672 237h4v4h-4zM680 237h4v4h-4zM552 241h4v4h-4zM564 241h4v4h-4zM576 245h4v4h-4zM684 245h4v4h-4zM700 249h4v4h-4z"/>
<path fill="#2c7cbc" d="M580 85h4v4h-4zM680 173h4v4h-4zM680 177h4v4h-4zM700 209h4v4h-4zM692 233h4v4h-4zM552 237h4v4h-4zM556 241h4v4h-4z"/>
<path fill="#2e7ebc" d="M584 85h4v4h-4zM584 89h4v4h-4zM692 157h4v4h-4zM708 157h4v4h-4zM692 161h4v4h-4zM708 161h4v4h-4zM692 165h4v4h-4zM692 169h4v4h-4zM692 173h4v4h-4zM684 177h4v4h-4zM712 201h4v4h-4zM696 205h4v4h-4zM680 209h4v4h-4zM708 209h4v4h-4zM712 213h4v4h-4zM548 217h4v4h-4zM684 217h4v4h-4zM696 217h4v4h-4zM544 221h4v4h-4zM676 221h4v4h-4zM708 221h4v4h-4zM688 225h4v4h-4zM700 225h4v4h-4zM548 229h4v4h-4zM688 229h4v4h-4zM712 229h4v4h-4zM548 233h4v4h-4zM572 233h4v4h-4zM672 233h4v4h-4zM680 233h4v4h-4zM704 233h4v4h-4zM548 237h4v4h-4zM564 237h4v4h-4zM572 237h4v4h-4zM692 237h4v4h-4zM668 241h4v4h-4zM696 241h4v4h-4zM708 241h4v4h-4zM544 245h4v4h-4zM568 245h4v4h-4zM676 245h4v4h-4zM700 245h4v4h-4zM572 249h4v4h-4zM688 249h4v4h-4zM712 249h4v4h-4zM680 253h4v4h-4zM704 253h4v4h-4z"/>
<path fill="#3484c0" d="M588 85h4v4h-4zM704 141h4v4h-4zM688 157h4v4h-4zM684 209h4v4h-4zM704 209h4v4h-4zM692 217h4v4h-4zM672 221h4v4h-4zM692 221h4v4h-4zM696 229h4v4h-4zM536 245h4v4h-4zM676 253h4v4h-4zM568 265h4v4h-4z"/>
<path fill="#4a98c8" d="M536 89h4v4h-4zM660 97h4v4h-4zM684 105h4v4h-4zM664 109h4v4h-4zM548 121h4v4h-4zM552 125h4v4h-4zM584 129h4v4h-4zM552 193h4v4h-4zM664 193h4v4h-4zM656 197h4v4h-4zM588 209h4v4h-4z"/>
<path fill="#3c8cc2" d="M572 89h4v4h-4zM592 89h4v4h-4zM588 105h4v4h-4zM560 109h4v4h-4zM672 109h4v4h-4zM580 113h4v4h-4zM576 117h4v4h-4zM676 121h4v4h-4zM688 137h4v4h-4zM672 145h4v4h-4zM676 153h4v4h-4zM668 157h4v4h-4zM660 161h4v4h-4zM672 165h4v4h-4zM540 201h4v4h-4zM548 201h4v4h-4zM540 205h4v4h-4zM672 205h4v4h-4zM696 213h4v4h-4zM668 221h4v4h-4zM576 229h4v4h-4zM552 249h4v4h-4zM556 253h4v4h-4zM560 257h4v4h-4zM568 257h4v4h-4zM564 265h4v4h-4z"/>
<path fill="#2676b8" d="M576 89h4v4h-4zM572 93h4v4h-4zM704 161h4v4h-4zM696 165h4v4h-4zM704 165h4v4h-4zM696 169h4v4h-4zM704 169h4v4h-4zM696 173h4v4h-4zM688 177h4v4h-4zM688 181h4v4h-4zM700 181h4v4h-4zM688 185h4v4h-4zM704 185h4v4h-4zM692 189h4v4h-4zM708 189h4v4h-4zM700 193h4v4h-4zM692 197h4v4h-4zM708 201h4v4h-4zM692 245h4v4h-4z"/>
<path fill="#2070b4" d="M580 89h4v4h-4zM576 97h4v4h-4zM708 165h4v4h-4zM708 169h4v4h-4zM700 173h4v4h-4zM692 177h4v4h-4zM684 181h4v4h-4zM696 185h4v4h-4zM712 189h4v4h-4zM688 193h4v4h-4zM684 197h4v4h-4z"/>
<path fill="#74b2d8" d="M620 89h4v4h-4zM624 133h8v4h-8zM524 137h4v4h-4zM604 153h4v4h-4zM580 173h4v4h-4zM664 181h4v4h-4zM520 189h4v4h-4zM632 213h4v4h-4zM636 217h4v4h-4zM640 225h4v4h-4zM644 237h4v4h-4z"/>
<path fill="#084890" d="M576 93h4v4h-4z"/>
<path fill="#1e6eb2" d="M580 93h4v4h-4zM704 177h4v4h-4zM696 181h4v4h-4zM716 181h4v4h-4z"/>
<path fill="#2474b6" d="M584 93h4v4h-4zM716 161h4v4h-4zM700 177h4v4h-4zM708 177h4v4h-4zM712 181h4v4h-4zM696 189h4v4h-4zM712 193h4v4h-4zM716 197h4v4h-4zM548 225h4v4h-4zM684 249h4v4h-4z"/>
<path fill="#2a7aba" d="M584 97h4v4h-4zM576 101h4v4h-4zM700 153h4v4h-4zM720 165h4v4h-4zM708 181h4v4h-4zM700 185h4v4h-4zM676 193h4v4h-4zM696 193h4v4h-4zM708 193h4v4h-4zM680 197h4v4h-4zM688 197h4v4h-4zM712 197h4v4h-4zM684 201h4v4h-4zM688 205h4v4h-4zM708 205h4v4h-4zM712 209h4v4h-4zM708 217h4v4h-4zM544 225h4v4h-4zM680 225h4v4h-4zM696 233h4v4h-4zM676 237h4v4h-4zM684 237h4v4h-4zM712 241h4v4h-4zM688 245h4v4h-4zM680 249h4v4h-4zM692 249h4v4h-4zM708 253h4v4h-4z"/>
<path fill="#569ece" d="M648 97h4v4h-4zM652 181h4v4h-4zM652 229h4v4h-4zM648 245h4v4h-4z"/>
<path fill="#4492c6" d="M544 101h4v4h-4zM544 105h4v4h-4zM596 113h4v4h-4zM668 113h4v4h-4zM672 125h4v4h-4zM704 133h4v4h-4zM676 145h4v4h-4zM556 201h4v4h-4zM564 205h4v4h-4zM656 225h4v4h-4zM660 237h4v4h-4zM656 245h4v4h-4z"/>
<path fill="#4e9acc" d="M548 101h4v4h-4zM612 109h4v4h-4zM580 121h4v4h-4zM644 189h4v4h-4z"/>
<path fill="#5ea4d0" d="M628 101h4v4h-4zM620 113h4v4h-4zM648 113h4v4h-4zM652 129h4v4h-4zM620 133h4v4h-4zM564 141h4v4h-4zM540 153h4v4h-4zM532 173h4v4h-4zM540 173h4v4h-4zM636 177h4v4h-4zM528 181h4v4h-4zM596 189h4v4h-4zM528 197h4v4h-4zM560 213h4v4h-4zM648 225h4v4h-4z"/>
<path fill="#4494c8" d="M656 101h4v4h-4zM544 109h4v4h-4zM556 113h4v4h-4zM580 117h4v4h-4zM700 125h4v4h-4zM540 129h4v4h-4zM548 129h4v4h-4zM692 137h4v4h-4zM652 157h4v4h-4zM660 157h4v4h-4zM584 221h4v4h-4zM532 245h4v4h-4z"/>
<path fill="#2c7cba" d="M580 105h4v4h-4zM708 149h4v4h-4zM708 153h4v4h-4zM700 157h4v4h-4zM700 161h4v4h-4zM720 161h4v4h-4zM700 165h4v4h-4zM700 169h4v4h-4zM704 189h4v4h-4zM716 193h4v4h-4zM700 197h4v4h-4zM692 201h4v4h-4zM704 201h4v4h-4zM716 205h4v4h-4zM704 213h4v4h-4zM688 221h4v4h-4zM712 225h4v4h-4zM680 229h4v4h-4zM692 229h4v4h-4zM704 229h4v4h-4zM544 237h4v4h-4zM696 237h4v4h-4zM708 237h4v4h-4zM576 241h4v4h-4zM676 241h4v4h-4zM684 241h4v4h-4zM700 241h4v4h-4zM548 245h4v4h-4zM712 245h4v4h-4zM672 249h4v4h-4zM704 249h4v4h-4z"/>
<path fill="#5aa4d0" d="M636 109h4v4h-4zM544 145h4v4h-4zM540 169h4v4h-4zM604 197h4v4h-4zM608 201h4v4h-4z"/>
<path fill="#6aacd6" d="M636 113h4v4h-4zM620 161h4v4h-4zM552 165h4v4h-4zM572 177h4v4h-4zM604 185h4v4h-4zM528 193h4v4h-4z"/>
<path fill="#8ec0de" d="M496 129h4v4h-4zM636 129h8v4h-8zM472 153h4v4h-4zM564 153h4v4h-4zM508 165h4v4h-4zM508 185h4v4h-4zM484 225h4v4h-4zM624 229h4v4h-4z"/>
<path fill="#8cc0dc" d="M504 137h4v4h-4zM504 149h4v4h-4zM500 153h4v4h-4zM480 157h4v4h-4zM468 165h4v4h-4zM584 165h4v4h-4zM512 241h4v4h-4z"/>
<path fill="#6cb0d6" d="M524 149h4v4h-4zM516 161h4v4h-4zM572 173h4v4h-4zM524 209h4v4h-4zM476 229h4v4h-4z"/>
<path fill="#9ecae2" d="M496 157h4v4h-4zM488 161h4v4h-4zM500 169h4v4h-4zM484 177h8v4h-8zM468 213h4v4h-4z"/>
<path fill="#98c8e0" d="M492 161h4v4h-4zM488 173h4v4h-4zM472 197h4v4h-4zM488 221h4v4h-4z"/>
<path fill="#a4cce2" d="M564 165h4v4h-4zM488 181h4v4h-4zM480 197h4v4h-4zM476 217h4v4h-4zM504 229h4v4h-4zM512 229h4v4h-4zM496 233h4v4h-4zM500 237h4v4h-4z"/>
<path fill="#2272b6" d="M716 165h4v4h-4zM716 169h4v4h-4zM708 173h4v4h-4zM716 173h4v4h-4zM692 181h4v4h-4zM704 181h4v4h-4zM676 185h4v4h-4zM692 185h4v4h-4zM708 185h4v4h-4zM716 185h4v4h-4zM700 189h4v4h-4zM684 193h4v4h-4zM704 193h4v4h-4zM544 241h4v4h-4z"/>
<path fill="#1c6cb0" d="M712 173h4v4h-4z"/>
<path fill="#206eb4" d="M712 177h4v4h-4zM692 193h4v4h-4z"/>
<path fill="#1a6aae" d="M716 177h4v4h-4zM680 193h4v4h-4z"/>
<path fill="#2878ba" d="M680 181h4v4h-4zM704 245h4v4h-4z"/>
<path fill="#1866ac" d="M680 185h4v4h-4zM684 189h4v4h-4z"/>
<path fill="#1a68ae" d="M684 185h4v4h-4z"/>
<path fill="#1e6cb2" d="M676 189h4v4h-4zM540 241h4v4h-4z"/>
<path fill="#125ea6" d="M680 189h4v4h-4z"/>
<path fill="#1c6ab0" d="M688 189h4v4h-4zM540 237h4v4h-4z"/>
<path fill="#b0d2e6" d="M484 197h4v4h-4zM508 205h4v4h-4z"/>
<path fill="#c2d8ee" d="M500 209h4v4h-4z"/>
<path fill="#0e58a2" d="M548 221h4v4h-4z"/>
<path fill="#a6cce4" d="M496 229h4v4h-4z"/>
</g>
<rect x="0" y="0" width="300" height="274" fill="url(#gp)" opacity="0.1" clip-path="url(#mclip)" transform="translate(0,0)"/>
<rect x="0" y="0" width="300" height="274" fill="url(#gp)" opacity="0.14" clip-path="url(#mclip)" transform="translate(400,0)"/>
<g fill="none" stroke="#bdbdbd" stroke-width="1.2" stroke-linejoin="round" stroke-linecap="round">
<polygon points="156,5.5 161,6.3 164.5,8.5 166.5,10.5 169,13 172.3,17.3 176,19.5 178.7,23 181.4,27.5 183.5,31.5 188,33.7 192.3,38 195.5,42 196,44.8 202.7,44.4 207.8,42.5 212.9,41.2 220.6,41.2 225.7,42.5 228.2,45 232.1,48.2 235.9,52.7 239.8,55.9 245,60.5 256,71 262.9,80 270.2,87.3 277.4,95.5 286,106 294.7,116.6 299.7,123.2 306.3,129.9 308,132 306.3,138.2 304.7,146.5 306.3,151.5 313,154.8 316.3,159.8 319.6,164.8 318,169.7 316.3,176.4 318,183.3 316.3,196.6 314.6,209.9 314.6,223.2 315,236 314.4,248.4 313.3,252.8 310.6,255 305.6,255 300.7,253.9 296.9,251.1 293.6,250 290.3,251.1 287,252.8 281.6,253.9 276.7,252.8 275,250 271.7,248.4 267.4,248.2 264.6,247.3 261.9,248.4 257.5,249 253.1,248.4 248.8,249.5 244.4,249 240,248.4 235,250.6 230.6,253.3 227,256 221.5,258.8 219.7,257 218.8,251.5 216,249.7 210.5,247 205.1,244.2 199.6,241.5 192.3,240.5 186.9,242 181.6,243.8 176.2,246.5 171.7,250 168.2,256 166.7,262.1 163.6,265.2 154.4,262.1 146.7,263.6 143.7,262.1 139.1,265.2 129.9,265.2 126.8,263.6 123.7,257.5 119.1,252.9 116.1,248.3 113,243.7 110,242.5 106,244 101,242 96,240 90.6,238.4 86,239 81,239.6 76.4,238.4 72.8,234.8 69.2,229 65.7,223 61.5,216 60.8,212 61.7,205.5 64.7,203.3 71.7,201.1 75.2,198 79,193 82.1,188.2 79.2,185.3 75.5,181.7 71.1,175.8 66.8,170.5 64,166 63,164.7 60.8,161.2 60.8,159.8 63.8,156.1 68.2,153.2 74,150.3 79.9,146.6 85,142.2 88,137.1 90.8,132 97.4,128.4 101.9,128.3 111,129.2 115.5,133.7 119.2,135.5 123.7,133.7 129.2,131 132.9,127.3 135.6,123.7 138.3,116.4 140.2,111 141.5,106.7 139.1,101.9 135.6,97.2 132,92.4 127.3,86.5 124.9,79.4 124.9,67.5 122.5,64 109,60.4 109.5,54.5 120.2,53.3 122.5,49.7 124.9,45 126.5,36.8 130.6,26.6 134.7,18.4 136.7,15.3 143.9,11.2 150,7.2"/>
<polyline points="160.2,6.4 162.8,11.5 166.6,19.2 169.2,25.6 167.9,32 164,37.1 159,39.6 155.5,43 155.5,50.5 157.8,56.5 161.5,60 163.5,66 164.3,72 164.5,77.8 163.3,81.4 164.5,86.1 162.1,89.7 160.9,95.6 159.7,102.7 160.9,109.8 161,116.4 168.8,120.8 171,124.1 174.3,116.4 178.6,117.5"/>
<polyline points="164.5,77.8 169.2,77.8 172.8,75.4 176.4,71.9 178.7,69.5 184.7,69.5 187,70.7 188.2,76.6 189.4,81.4 194.1,82.5 198.9,81.4"/>
<polyline points="198.9,81.4 198.9,84.9 196.5,88.5 194.1,93.2 191.8,96.8 189.4,100.3 185.8,103.9 182.3,107.4 179.9,111 178.6,117.5 181.9,124.1 185.2,129.6 192.9,131.8 200.6,132.9 206,135.1 210.4,139.5 212.6,146 213.7,150.4 220.3,151.5 223,151"/>
<polyline points="234.5,52.5 229.5,54.6 227.6,57.2 223.1,59.1 219.3,62.3 215.5,64.9 211.6,64.2 207.8,61.7 204.6,59.1 202.7,57.2 200.8,58.5 202.7,61 205.2,63.6 206.5,66.8 204.6,70 202.7,73 202.4,76.6 200.1,80.2 198.9,81.4"/>
<polyline points="139.1,101.9 147.4,98.4 153.4,94.8 160,92.4 162.1,89.7"/>
<polyline points="277.4,95.5 268.3,98.2 259.2,101 251.9,102.8 246.5,106.4 241.9,109.2 233.7,111 227.3,112.8 223.6,115.4 223.6,124.1 223.6,135.1 224.7,143.9 225.5,149 223,151 222.5,154.8 221.4,160 218.3,166.4 215,173.1 212.8,177.2 210.6,180.5 208.5,183.8 205.2,188.1 199.7,194.7 194.2,201.3 188.8,207.8 185.5,211.1"/>
<polyline points="225.5,149 227.5,151 229.9,154.8 236.5,159.8 246.5,166.4 252,173 255.5,179 256.5,186.6 254.8,196.6 253.2,206.5 251.5,214.8 254.8,223.2 256.5,231.5 258.6,233 260.5,241 261.9,248.4"/>
<polyline points="255.5,179 258.5,179 263.1,176.4 269.8,169.7 276.4,164.8 283.1,159.8 286.4,153.1 293,149.8 300,149.5 304.7,146.5"/>
<polyline points="123.7,133.7 125,141 126,143 128,145 133,147 137,148 140,150 142,154 143,159 145,161 150,161 152,164 155,167 156,171 155,175 153.8,177.5 151.6,183.8 148.6,186.5 147.3,190.5 143,193.5 140.9,194.3 135.8,193 130.7,193 125.6,190.5 123,186.6 120.2,184.9 115.8,186.6 112.5,187.7 110.3,189.9 108.7,192.6 107.6,195.3 108.1,198.1 105.9,200.3 102.1,201.9 98.2,203.6 95,206.3 92.2,208.5 89.5,210 87.4,212.4 85.5,216.9 86.5,221.5 87.4,226.1 91.9,227.9 96.5,228.8 102,228.8 104.7,230.6 105.3,236 105.5,243.5"/>
<polyline points="76.4,198.7 79.2,205.1 81.9,210.5 83.7,215.1 85.5,216.9"/>
<polyline points="151.6,183.8 160.3,185.9 163.6,192.5 165.8,198 171.3,199.1 177.8,200.2 180,203.4 180,206.7 182.2,210 185.5,211.1 186.6,214.4 188.6,215.5 189.6,221.4 197.8,222.3 198.7,229.6 199.6,238.7 199.6,241.5"/>
<polyline points="141,193.5 141,197.7 139.9,203.2 141,209.7 138.8,216.3 138.8,222.9 143.2,225.1 149.7,226.2 151.9,229.5 158.5,233.9 165.1,237.1 171.7,240.4 173.9,243.7 172.8,249"/>
</g>
<g fill="none" stroke="#bdbdbd" stroke-width="1.2" stroke-linejoin="round" stroke-linecap="round">
<polygon points="556,5.5 561,6.3 564.5,8.5 566.5,10.5 569,13 572.3,17.3 576,19.5 578.7,23 581.4,27.5 583.5,31.5 588,33.7 592.3,38 595.5,42 596,44.8 602.7,44.4 607.8,42.5 612.9,41.2 620.6,41.2 625.7,42.5 628.2,45 632.1,48.2 635.9,52.7 639.8,55.9 645,60.5 656,71 662.9,80 670.2,87.3 677.4,95.5 686,106 694.7,116.6 699.7,123.2 706.3,129.9 708,132 706.3,138.2 704.7,146.5 706.3,151.5 713,154.8 716.3,159.8 719.6,164.8 718,169.7 716.3,176.4 718,183.3 716.3,196.6 714.6,209.9 714.6,223.2 715,236 714.4,248.4 713.3,252.8 710.6,255 705.6,255 700.7,253.9 696.9,251.1 693.6,250 690.3,251.1 687,252.8 681.6,253.9 676.7,252.8 675,250 671.7,248.4 667.4,248.2 664.6,247.3 661.9,248.4 657.5,249 653.1,248.4 648.8,249.5 644.4,249 640,248.4 635,250.6 630.6,253.3 627,256 621.5,258.8 619.7,257 618.8,251.5 616,249.7 610.5,247 605.1,244.2 599.6,241.5 592.3,240.5 586.9,242 581.6,243.8 576.2,246.5 571.7,250 568.2,256 566.7,262.1 563.6,265.2 554.4,262.1 546.7,263.6 543.7,262.1 539.1,265.2 529.9,265.2 526.8,263.6 523.7,257.5 519.1,252.9 516.1,248.3 513,243.7 510,242.5 506,244 501,242 496,240 490.6,238.4 486,239 481,239.6 476.4,238.4 472.8,234.8 469.2,229 465.7,223 461.5,216 460.8,212 461.7,205.5 464.7,203.3 471.7,201.1 475.2,198 479,193 482.1,188.2 479.2,185.3 475.5,181.7 471.1,175.8 466.8,170.5 464,166 463,164.7 460.8,161.2 460.8,159.8 463.8,156.1 468.2,153.2 474,150.3 479.9,146.6 485,142.2 488,137.1 490.8,132 497.4,128.4 501.9,128.3 511,129.2 515.5,133.7 519.2,135.5 523.7,133.7 529.2,131 532.9,127.3 535.6,123.7 538.3,116.4 540.2,111 541.5,106.7 539.1,101.9 535.6,97.2 532,92.4 527.3,86.5 524.9,79.4 524.9,67.5 522.5,64 509,60.4 509.5,54.5 520.2,53.3 522.5,49.7 524.9,45 526.5,36.8 530.6,26.6 534.7,18.4 536.7,15.3 543.9,11.2 550,7.2"/>
<polyline points="560.2,6.4 562.8,11.5 566.6,19.2 569.2,25.6 567.9,32 564,37.1 559,39.6 555.5,43 555.5,50.5 557.8,56.5 561.5,60 563.5,66 564.3,72 564.5,77.8 563.3,81.4 564.5,86.1 562.1,89.7 560.9,95.6 559.7,102.7 560.9,109.8 561,116.4 568.8,120.8 571,124.1 574.3,116.4 578.6,117.5"/>
<polyline points="564.5,77.8 569.2,77.8 572.8,75.4 576.4,71.9 578.7,69.5 584.7,69.5 587,70.7 588.2,76.6 589.4,81.4 594.1,82.5 598.9,81.4"/>
<polyline points="598.9,81.4 598.9,84.9 596.5,88.5 594.1,93.2 591.8,96.8 589.4,100.3 585.8,103.9 582.3,107.4 579.9,111 578.6,117.5 581.9,124.1 585.2,129.6 592.9,131.8 600.6,132.9 606,135.1 610.4,139.5 612.6,146 613.7,150.4 620.3,151.5 623,151"/>
<polyline points="634.5,52.5 629.5,54.6 627.6,57.2 623.1,59.1 619.3,62.3 615.5,64.9 611.6,64.2 607.8,61.7 604.6,59.1 602.7,57.2 600.8,58.5 602.7,61 605.2,63.6 606.5,66.8 604.6,70 602.7,73 602.4,76.6 600.1,80.2 598.9,81.4"/>
<polyline points="539.1,101.9 547.4,98.4 553.4,94.8 560,92.4 562.1,89.7"/>
<polyline points="677.4,95.5 668.3,98.2 659.2,101 651.9,102.8 646.5,106.4 641.9,109.2 633.7,111 627.3,112.8 623.6,115.4 623.6,124.1 623.6,135.1 624.7,143.9 625.5,149 623,151 622.5,154.8 621.4,160 618.3,166.4 615,173.1 612.8,177.2 610.6,180.5 608.5,183.8 605.2,188.1 599.7,194.7 594.2,201.3 588.8,207.8 585.5,211.1"/>
<polyline points="625.5,149 627.5,151 629.9,154.8 636.5,159.8 646.5,166.4 652,173 655.5,179 656.5,186.6 654.8,196.6 653.2,206.5 651.5,214.8 654.8,223.2 656.5,231.5 658.6,233 660.5,241 661.9,248.4"/>
<polyline points="655.5,179 658.5,179 663.1,176.4 669.8,169.7 676.4,164.8 683.1,159.8 686.4,153.1 693,149.8 700,149.5 704.7,146.5"/>
<polyline points="523.7,133.7 525,141 526,143 528,145 533,147 537,148 540,150 542,154 543,159 545,161 550,161 552,164 555,167 556,171 555,175 553.8,177.5 551.6,183.8 548.6,186.5 547.3,190.5 543,193.5 540.9,194.3 535.8,193 530.7,193 525.6,190.5 523,186.6 520.2,184.9 515.8,186.6 512.5,187.7 510.3,189.9 508.7,192.6 507.6,195.3 508.1,198.1 505.9,200.3 502.1,201.9 498.2,203.6 495,206.3 492.2,208.5 489.5,210 487.4,212.4 485.5,216.9 486.5,221.5 487.4,226.1 491.9,227.9 496.5,228.8 502,228.8 504.7,230.6 505.3,236 505.5,243.5"/>
<polyline points="476.4,198.7 479.2,205.1 481.9,210.5 483.7,215.1 485.5,216.9"/>
<polyline points="551.6,183.8 560.3,185.9 563.6,192.5 565.8,198 571.3,199.1 577.8,200.2 580,203.4 580,206.7 582.2,210 585.5,211.1 586.6,214.4 588.6,215.5 589.6,221.4 597.8,222.3 598.7,229.6 599.6,238.7 599.6,241.5"/>
<polyline points="541,193.5 541,197.7 539.9,203.2 541,209.7 538.8,216.3 538.8,222.9 543.2,225.1 549.7,226.2 551.9,229.5 558.5,233.9 565.1,237.1 571.7,240.4 573.9,243.7 572.8,249"/>
</g>
<text x="39.6" y="26.6" font-size="15.5" text-anchor="middle">N</text>
<polygon points="39.5,30 32,65.6 39.5,59.6 " fill="#fff" stroke="#000" stroke-width="1.1" stroke-linejoin="miter"/>
<polygon points="39.5,30 47,65.6 39.5,59.6" fill="#000" stroke="#000" stroke-width="1"/>
<rect x="16.1" y="78.5" width="60.3" height="5.4" fill="#fff" stroke="#000" stroke-width="1.1"/>
<rect x="35.8" y="78.5" width="20.6" height="5.4" fill="#000"/>
<text x="16.3" y="92.8" font-size="9.2" text-anchor="middle">0</text>
<text x="36.2" y="92.8" font-size="9.2" text-anchor="middle">5</text>
<text x="56.5" y="92.8" font-size="9.2" text-anchor="middle">10</text>
<text x="76.2" y="92.8" font-size="9.2" text-anchor="middle">15</text>
<text x="84.2" y="92.8" font-size="9.2">km</text>
<text x="439.6" y="26.6" font-size="15.5" text-anchor="middle">N</text>
<polygon points="439.5,30 432,65.6 439.5,59.6 " fill="#fff" stroke="#000" stroke-width="1.1" stroke-linejoin="miter"/>
<polygon points="439.5,30 447,65.6 439.5,59.6" fill="#000" stroke="#000" stroke-width="1"/>
<rect x="416.1" y="78.5" width="60.3" height="5.4" fill="#fff" stroke="#000" stroke-width="1.1"/>
<rect x="435.8" y="78.5" width="20.6" height="5.4" fill="#000"/>
<text x="416.3" y="92.8" font-size="9.2" text-anchor="middle">0</text>
<text x="436.2" y="92.8" font-size="9.2" text-anchor="middle">5</text>
<text x="456.5" y="92.8" font-size="9.2" text-anchor="middle">10</text>
<text x="476.2" y="92.8" font-size="9.2" text-anchor="middle">15</text>
<text x="484.2" y="92.8" font-size="9.2">km</text>
<text x="301.7" y="24.2" font-size="11.2">Local Mean</text>
<text x="301.2" y="38.8" font-size="11.2">zBMI 10-11yr</text>
<defs><linearGradient id="g0" x1="0" y1="0" x2="0" y2="1"><stop offset="0" stop-color="#d9ef8b"/><stop offset="0.166667" stop-color="#ffffbf"/><stop offset="0.333333" stop-color="#fee08b"/><stop offset="0.5" stop-color="#fdae61"/><stop offset="0.666667" stop-color="#f46d43"/><stop offset="0.833333" stop-color="#d73027"/><stop offset="1" stop-color="#a50026"/></linearGradient></defs>
<rect x="303.8" y="48.3" width="15.8" height="58.8" fill="url(#g0)"/>
<text x="323.2" y="61.4" font-size="13.3">0.0</text>
<text x="323.2" y="77.2" font-size="13.3">0.2</text>
<text x="323.2" y="93" font-size="13.3">0.4</text>
<text x="323.2" y="108.8" font-size="13.3">0.6</text>
<text x="701.7" y="24.2" font-size="11.2">Local SD</text>
<text x="701.2" y="38.8" font-size="11.2">zBMI 10-11yr</text>
<defs><linearGradient id="g400" x1="0" y1="0" x2="0" y2="1"><stop offset="0" stop-color="#f7fbff"/><stop offset="0.125" stop-color="#deebf7"/><stop offset="0.25" stop-color="#c6dbef"/><stop offset="0.375" stop-color="#9ecae1"/><stop offset="0.5" stop-color="#6baed6"/><stop offset="0.625" stop-color="#4292c6"/><stop offset="0.75" stop-color="#2171b5"/><stop offset="0.875" stop-color="#08519c"/><stop offset="1" stop-color="#08306b"/></linearGradient></defs>
<rect x="703.8" y="52.4" width="15.8" height="74.8" fill="url(#g400)"/>
<text x="723.2" y="61.2" font-size="13.3">0.8</text>
<text x="723.2" y="77.05" font-size="13.3">0.9</text>
<text x="723.2" y="92.9" font-size="13.3">1.0</text>
<text x="723.2" y="108.75" font-size="13.3">1.1</text>
<text x="723.2" y="124.6" font-size="13.3">1.2</text>
<g fill="none" stroke="#4d4d4d" stroke-width="1.3">
<path d="M0 0.05H384.4M0.75 0V274M383.7 0V274M0 273.7H384.4"/>
<path d="M400 0.05H784M400.6 0V274M784.25 0V274M400 273.7H784"/>
</g>
</svg></body></html>
